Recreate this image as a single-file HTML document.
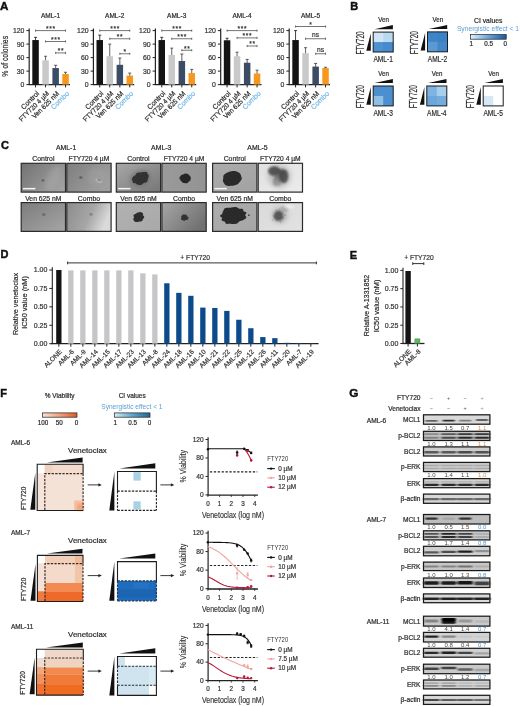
<!DOCTYPE html>
<html><head><meta charset="utf-8"><title>Figure</title>
<style>html,body{margin:0;padding:0;background:#fff;} svg{display:block;font-family:'Liberation Sans', Arial, sans-serif;}</style>
</head><body>
<svg width="520" height="706" viewBox="0 0 520 706">
<defs>
<linearGradient id="gB" x1="0" x2="1" y1="0" y2="0"><stop offset="0" stop-color="#e2f0fa"/><stop offset="0.5" stop-color="#6aa6da"/><stop offset="1" stop-color="#1459a3"/></linearGradient>
<linearGradient id="gFo" x1="0" x2="1" y1="0" y2="0"><stop offset="0" stop-color="#f8e2d6"/><stop offset="0.5" stop-color="#f2a07a"/><stop offset="1" stop-color="#e5581e"/></linearGradient>
<linearGradient id="gFb" x1="0" x2="1" y1="0" y2="0"><stop offset="0" stop-color="#d6eef6"/><stop offset="0.5" stop-color="#5ea7cc"/><stop offset="1" stop-color="#1a6a9c"/></linearGradient>
<linearGradient id="c000" x1="0" x2="1" y1="0.2" y2="0.8"><stop offset="0" stop-color="#767676"/><stop offset="1" stop-color="#a2a2a2"/></linearGradient>
<linearGradient id="c001" x1="0" x2="1" y1="0" y2="0.5"><stop offset="0" stop-color="#7e7e7e"/><stop offset="1" stop-color="#9e9e9e"/></linearGradient>
<linearGradient id="c010" x1="0" x2="1" y1="0" y2="1"><stop offset="0" stop-color="#7c7c7c"/><stop offset="1" stop-color="#a6a6a6"/></linearGradient>
<linearGradient id="c011" x1="0" x2="1" y1="0" y2="0.3"><stop offset="0" stop-color="#8c8c8c"/><stop offset="0.6" stop-color="#a6a6a6"/><stop offset="1" stop-color="#dadada"/></linearGradient>
<linearGradient id="c100" x1="0" x2="1" y1="0" y2="1"><stop offset="0" stop-color="#a8a8a8"/><stop offset="1" stop-color="#767676"/></linearGradient>
<linearGradient id="c101" x1="0" x2="1" y1="0" y2="0"><stop offset="0" stop-color="#9a9a9a"/><stop offset="1" stop-color="#939393"/></linearGradient>
<linearGradient id="c110" x1="0" x2="1" y1="0" y2="1"><stop offset="0" stop-color="#b2b2b2"/><stop offset="1" stop-color="#a8a8a8"/></linearGradient>
<linearGradient id="c111" x1="0" x2="1" y1="0" y2="0.6"><stop offset="0" stop-color="#a6a6a6"/><stop offset="1" stop-color="#727272"/></linearGradient>
<linearGradient id="c200" x1="0" x2="1" y1="0" y2="1"><stop offset="0" stop-color="#acacac"/><stop offset="1" stop-color="#a2a2a2"/></linearGradient>
<linearGradient id="c201" x1="0" x2="1" y1="0" y2="1"><stop offset="0" stop-color="#e0e0e0"/><stop offset="1" stop-color="#ececec"/></linearGradient>
<linearGradient id="c210" x1="0" x2="1" y1="0" y2="1"><stop offset="0" stop-color="#adadad"/><stop offset="1" stop-color="#a6a6a6"/></linearGradient>
<linearGradient id="c211" x1="0" x2="1" y1="0" y2="1"><stop offset="0" stop-color="#dadada"/><stop offset="1" stop-color="#e2e2e2"/></linearGradient>
<filter id="rough" x="-40%" y="-40%" width="180%" height="180%"><feTurbulence type="fractalNoise" baseFrequency="0.22" numOctaves="2" seed="4" result="n"/><feDisplacementMap in="SourceGraphic" in2="n" scale="2.4" xChannelSelector="R" yChannelSelector="G" result="d"/><feGaussianBlur in="d" stdDeviation="0.6"/></filter>
<filter id="rough2" x="-40%" y="-40%" width="180%" height="180%"><feTurbulence type="fractalNoise" baseFrequency="0.3" numOctaves="2" seed="9" result="n"/><feDisplacementMap in="SourceGraphic" in2="n" scale="3.2" xChannelSelector="R" yChannelSelector="G" result="d"/><feGaussianBlur in="d" stdDeviation="0.6"/></filter>
<filter id="bl07" x="-80%" y="-80%" width="260%" height="260%"><feGaussianBlur stdDeviation="0.7"/></filter>
<filter id="bl2" x="-80%" y="-80%" width="260%" height="260%"><feGaussianBlur stdDeviation="2.2"/></filter>
<filter id="bl08" x="-50%" y="-50%" width="200%" height="200%"><feGaussianBlur stdDeviation="0.7"/></filter>
<filter id="bl12" x="-60%" y="-60%" width="220%" height="220%"><feGaussianBlur stdDeviation="1.2"/></filter>
<filter id="bl05" x="-50%" y="-50%" width="200%" height="200%"><feGaussianBlur stdDeviation="0.6"/></filter>
<filter id="bl1" x="-50%" y="-50%" width="200%" height="200%"><feGaussianBlur stdDeviation="1"/></filter>
<filter id="bl15" x="-50%" y="-50%" width="200%" height="200%"><feGaussianBlur stdDeviation="1.6"/></filter>
<filter id="bb" x="-10%" y="-50%" width="120%" height="200%"><feGaussianBlur stdDeviation="1.0 0.5"/></filter>
</defs>
<rect width="520" height="706" fill="#fff"/>
<text x="0.00" y="10.00" font-size="11.6" text-anchor="start" fill="#111" font-weight="bold" stroke="#111" stroke-width="0.45">A</text>
<text transform="translate(8.00,56.30) rotate(-90)" font-size="9.0" text-anchor="middle" fill="#2a2a2a" textLength="40.68" lengthAdjust="spacingAndGlyphs"  stroke="#2a2a2a" stroke-width="0.2">% of colonies</text>
<text x="50.50" y="18.20" font-size="6.5" text-anchor="middle" fill="#2a2a2a"  stroke="#2a2a2a" stroke-width="0.2">AML-1</text>
<line x1="29.20" y1="28.40" x2="29.20" y2="85.00" stroke="#222" stroke-width="1.2" />
<line x1="26.40" y1="84.60" x2="29.00" y2="84.60" stroke="#222" stroke-width="1.0" />
<text x="24.40" y="87.00" font-size="6.9" text-anchor="end" fill="#333"  stroke="#333" stroke-width="0.2">0</text>
<line x1="26.40" y1="71.10" x2="29.00" y2="71.10" stroke="#222" stroke-width="1.0" />
<text x="24.40" y="73.50" font-size="6.9" text-anchor="end" fill="#333"  stroke="#333" stroke-width="0.2">30</text>
<line x1="26.40" y1="57.60" x2="29.00" y2="57.60" stroke="#222" stroke-width="1.0" />
<text x="24.40" y="60.00" font-size="6.9" text-anchor="end" fill="#333"  stroke="#333" stroke-width="0.2">60</text>
<line x1="26.40" y1="44.10" x2="29.00" y2="44.10" stroke="#222" stroke-width="1.0" />
<text x="24.40" y="46.50" font-size="6.9" text-anchor="end" fill="#333"  stroke="#333" stroke-width="0.2">90</text>
<line x1="26.40" y1="30.60" x2="29.00" y2="30.60" stroke="#222" stroke-width="1.0" />
<text x="24.40" y="33.00" font-size="6.9" text-anchor="end" fill="#333"  stroke="#333" stroke-width="0.2">120</text>
<line x1="28.60" y1="84.60" x2="70.00" y2="84.60" stroke="#222" stroke-width="1.2" />
<line x1="35.55" y1="37.35" x2="35.55" y2="40.55" stroke="#141414" stroke-width="0.8" />
<line x1="34.05" y1="37.35" x2="37.05" y2="37.35" stroke="#141414" stroke-width="0.8" />
<rect x="32.30" y="40.05" width="6.50" height="44.55" fill="#141414" />
<line x1="35.55" y1="84.60" x2="35.55" y2="87.40" stroke="#222" stroke-width="1.0" />
<text transform="translate(39.65,94.00) rotate(-45)" font-size="7" text-anchor="end" fill="#2a2a2a" textLength="22.56" lengthAdjust="spacingAndGlyphs"  stroke="#2a2a2a" stroke-width="0.2">Control</text>
<line x1="45.55" y1="56.25" x2="45.55" y2="60.80" stroke="#3a3a3a" stroke-width="0.8" />
<line x1="44.05" y1="56.25" x2="47.05" y2="56.25" stroke="#3a3a3a" stroke-width="0.8" />
<rect x="42.30" y="60.30" width="6.50" height="24.30" fill="#c9c9cb" />
<line x1="45.55" y1="84.60" x2="45.55" y2="87.40" stroke="#222" stroke-width="1.0" />
<text transform="translate(49.65,94.00) rotate(-45)" font-size="7" text-anchor="end" fill="#2a2a2a" textLength="39.57" lengthAdjust="spacingAndGlyphs"  stroke="#2a2a2a" stroke-width="0.2">FTY720 4 µM</text>
<line x1="55.65" y1="65.25" x2="55.65" y2="68.58" stroke="#333" stroke-width="0.8" />
<line x1="54.15" y1="65.25" x2="57.15" y2="65.25" stroke="#333" stroke-width="0.8" />
<rect x="52.40" y="68.08" width="6.50" height="16.52" fill="#3c4c64" />
<line x1="55.65" y1="84.60" x2="55.65" y2="87.40" stroke="#222" stroke-width="1.0" />
<text transform="translate(59.75,94.00) rotate(-45)" font-size="7" text-anchor="end" fill="#2a2a2a" textLength="35.49" lengthAdjust="spacingAndGlyphs"  stroke="#2a2a2a" stroke-width="0.2">Ven 625 nM</text>
<line x1="65.55" y1="72.27" x2="65.55" y2="74.52" stroke="#3a3a3a" stroke-width="0.8" />
<line x1="64.05" y1="72.27" x2="67.05" y2="72.27" stroke="#3a3a3a" stroke-width="0.8" />
<rect x="62.30" y="74.02" width="6.50" height="10.58" fill="#f7981e" />
<line x1="65.55" y1="84.60" x2="65.55" y2="87.40" stroke="#222" stroke-width="1.0" />
<text transform="translate(69.65,94.00) rotate(-45)" font-size="7" text-anchor="end" fill="#72b8e6" textLength="22.56" lengthAdjust="spacingAndGlyphs"  stroke="#72b8e6" stroke-width="0.2">Combo</text>
<line x1="35.55" y1="30.60" x2="65.55" y2="30.60" stroke="#3a3a3a" stroke-width="0.7" />
<line x1="35.55" y1="29.50" x2="35.55" y2="31.70" stroke="#3a3a3a" stroke-width="0.7" />
<line x1="65.55" y1="29.50" x2="65.55" y2="31.70" stroke="#3a3a3a" stroke-width="0.7" />
<text x="50.90" y="30.90" font-size="6.6" text-anchor="middle" fill="#333" stroke="#333" stroke-width="0.2" letter-spacing="0.7">***</text>
<line x1="45.55" y1="41.50" x2="65.55" y2="41.50" stroke="#3a3a3a" stroke-width="0.7" />
<line x1="45.55" y1="40.40" x2="45.55" y2="42.60" stroke="#3a3a3a" stroke-width="0.7" />
<line x1="65.55" y1="40.40" x2="65.55" y2="42.60" stroke="#3a3a3a" stroke-width="0.7" />
<text x="55.90" y="41.80" font-size="6.6" text-anchor="middle" fill="#333" stroke="#333" stroke-width="0.2" letter-spacing="0.7">***</text>
<line x1="55.65" y1="52.90" x2="65.55" y2="52.90" stroke="#3a3a3a" stroke-width="0.7" />
<line x1="55.65" y1="51.80" x2="55.65" y2="54.00" stroke="#3a3a3a" stroke-width="0.7" />
<line x1="65.55" y1="51.80" x2="65.55" y2="54.00" stroke="#3a3a3a" stroke-width="0.7" />
<text x="60.95" y="53.20" font-size="6.6" text-anchor="middle" fill="#333" stroke="#333" stroke-width="0.2" letter-spacing="0.7">**</text>
<text x="114.70" y="18.20" font-size="6.5" text-anchor="middle" fill="#2a2a2a"  stroke="#2a2a2a" stroke-width="0.2">AML-2</text>
<line x1="93.40" y1="28.40" x2="93.40" y2="85.00" stroke="#222" stroke-width="1.2" />
<line x1="90.60" y1="84.60" x2="93.20" y2="84.60" stroke="#222" stroke-width="1.0" />
<text x="88.60" y="87.00" font-size="6.9" text-anchor="end" fill="#333"  stroke="#333" stroke-width="0.2">0</text>
<line x1="90.60" y1="71.10" x2="93.20" y2="71.10" stroke="#222" stroke-width="1.0" />
<text x="88.60" y="73.50" font-size="6.9" text-anchor="end" fill="#333"  stroke="#333" stroke-width="0.2">30</text>
<line x1="90.60" y1="57.60" x2="93.20" y2="57.60" stroke="#222" stroke-width="1.0" />
<text x="88.60" y="60.00" font-size="6.9" text-anchor="end" fill="#333"  stroke="#333" stroke-width="0.2">60</text>
<line x1="90.60" y1="44.10" x2="93.20" y2="44.10" stroke="#222" stroke-width="1.0" />
<text x="88.60" y="46.50" font-size="6.9" text-anchor="end" fill="#333"  stroke="#333" stroke-width="0.2">90</text>
<line x1="90.60" y1="30.60" x2="93.20" y2="30.60" stroke="#222" stroke-width="1.0" />
<text x="88.60" y="33.00" font-size="6.9" text-anchor="end" fill="#333"  stroke="#333" stroke-width="0.2">120</text>
<line x1="92.80" y1="84.60" x2="134.20" y2="84.60" stroke="#222" stroke-width="1.2" />
<line x1="99.75" y1="35.10" x2="99.75" y2="40.55" stroke="#141414" stroke-width="0.8" />
<line x1="98.25" y1="35.10" x2="101.25" y2="35.10" stroke="#141414" stroke-width="0.8" />
<rect x="96.50" y="40.05" width="6.50" height="44.55" fill="#141414" />
<line x1="99.75" y1="84.60" x2="99.75" y2="87.40" stroke="#222" stroke-width="1.0" />
<text transform="translate(103.85,94.00) rotate(-45)" font-size="7" text-anchor="end" fill="#2a2a2a" textLength="22.56" lengthAdjust="spacingAndGlyphs"  stroke="#2a2a2a" stroke-width="0.2">Control</text>
<line x1="109.75" y1="44.10" x2="109.75" y2="56.75" stroke="#3a3a3a" stroke-width="0.8" />
<line x1="108.25" y1="44.10" x2="111.25" y2="44.10" stroke="#3a3a3a" stroke-width="0.8" />
<rect x="106.50" y="56.25" width="6.50" height="28.35" fill="#c9c9cb" />
<line x1="109.75" y1="84.60" x2="109.75" y2="87.40" stroke="#222" stroke-width="1.0" />
<text transform="translate(113.85,94.00) rotate(-45)" font-size="7" text-anchor="end" fill="#2a2a2a" textLength="39.57" lengthAdjust="spacingAndGlyphs"  stroke="#2a2a2a" stroke-width="0.2">FTY720 4 µM</text>
<line x1="119.85" y1="58.05" x2="119.85" y2="65.30" stroke="#333" stroke-width="0.8" />
<line x1="118.35" y1="58.05" x2="121.35" y2="58.05" stroke="#333" stroke-width="0.8" />
<rect x="116.60" y="64.80" width="6.50" height="19.80" fill="#3c4c64" />
<line x1="119.85" y1="84.60" x2="119.85" y2="87.40" stroke="#222" stroke-width="1.0" />
<text transform="translate(123.95,94.00) rotate(-45)" font-size="7" text-anchor="end" fill="#2a2a2a" textLength="35.49" lengthAdjust="spacingAndGlyphs"  stroke="#2a2a2a" stroke-width="0.2">Ven 625 nM</text>
<line x1="129.75" y1="73.08" x2="129.75" y2="76.10" stroke="#3a3a3a" stroke-width="0.8" />
<line x1="128.25" y1="73.08" x2="131.25" y2="73.08" stroke="#3a3a3a" stroke-width="0.8" />
<rect x="126.50" y="75.60" width="6.50" height="9.00" fill="#f7981e" />
<line x1="129.75" y1="84.60" x2="129.75" y2="87.40" stroke="#222" stroke-width="1.0" />
<text transform="translate(133.85,94.00) rotate(-45)" font-size="7" text-anchor="end" fill="#72b8e6" textLength="22.56" lengthAdjust="spacingAndGlyphs"  stroke="#72b8e6" stroke-width="0.2">Combo</text>
<line x1="99.75" y1="30.60" x2="129.75" y2="30.60" stroke="#3a3a3a" stroke-width="0.7" />
<line x1="99.75" y1="29.50" x2="99.75" y2="31.70" stroke="#3a3a3a" stroke-width="0.7" />
<line x1="129.75" y1="29.50" x2="129.75" y2="31.70" stroke="#3a3a3a" stroke-width="0.7" />
<text x="115.10" y="30.90" font-size="6.6" text-anchor="middle" fill="#333" stroke="#333" stroke-width="0.2" letter-spacing="0.7">***</text>
<line x1="109.75" y1="38.75" x2="129.75" y2="38.75" stroke="#3a3a3a" stroke-width="0.7" />
<line x1="109.75" y1="37.65" x2="109.75" y2="39.85" stroke="#3a3a3a" stroke-width="0.7" />
<line x1="129.75" y1="37.65" x2="129.75" y2="39.85" stroke="#3a3a3a" stroke-width="0.7" />
<text x="120.10" y="39.05" font-size="6.6" text-anchor="middle" fill="#333" stroke="#333" stroke-width="0.2" letter-spacing="0.7">**</text>
<line x1="119.85" y1="53.75" x2="129.75" y2="53.75" stroke="#3a3a3a" stroke-width="0.7" />
<line x1="119.85" y1="52.65" x2="119.85" y2="54.85" stroke="#3a3a3a" stroke-width="0.7" />
<line x1="129.75" y1="52.65" x2="129.75" y2="54.85" stroke="#3a3a3a" stroke-width="0.7" />
<text x="125.15" y="54.05" font-size="6.6" text-anchor="middle" fill="#333" stroke="#333" stroke-width="0.2" letter-spacing="0.7">*</text>
<text x="176.70" y="18.20" font-size="6.5" text-anchor="middle" fill="#2a2a2a"  stroke="#2a2a2a" stroke-width="0.2">AML-3</text>
<line x1="155.40" y1="28.40" x2="155.40" y2="85.00" stroke="#222" stroke-width="1.2" />
<line x1="152.60" y1="84.60" x2="155.20" y2="84.60" stroke="#222" stroke-width="1.0" />
<text x="150.60" y="87.00" font-size="6.9" text-anchor="end" fill="#333"  stroke="#333" stroke-width="0.2">0</text>
<line x1="152.60" y1="71.10" x2="155.20" y2="71.10" stroke="#222" stroke-width="1.0" />
<text x="150.60" y="73.50" font-size="6.9" text-anchor="end" fill="#333"  stroke="#333" stroke-width="0.2">30</text>
<line x1="152.60" y1="57.60" x2="155.20" y2="57.60" stroke="#222" stroke-width="1.0" />
<text x="150.60" y="60.00" font-size="6.9" text-anchor="end" fill="#333"  stroke="#333" stroke-width="0.2">60</text>
<line x1="152.60" y1="44.10" x2="155.20" y2="44.10" stroke="#222" stroke-width="1.0" />
<text x="150.60" y="46.50" font-size="6.9" text-anchor="end" fill="#333"  stroke="#333" stroke-width="0.2">90</text>
<line x1="152.60" y1="30.60" x2="155.20" y2="30.60" stroke="#222" stroke-width="1.0" />
<text x="150.60" y="33.00" font-size="6.9" text-anchor="end" fill="#333"  stroke="#333" stroke-width="0.2">120</text>
<line x1="154.80" y1="84.60" x2="196.20" y2="84.60" stroke="#222" stroke-width="1.2" />
<line x1="161.75" y1="37.35" x2="161.75" y2="40.55" stroke="#141414" stroke-width="0.8" />
<line x1="160.25" y1="37.35" x2="163.25" y2="37.35" stroke="#141414" stroke-width="0.8" />
<rect x="158.50" y="40.05" width="6.50" height="44.55" fill="#141414" />
<line x1="161.75" y1="84.60" x2="161.75" y2="87.40" stroke="#222" stroke-width="1.0" />
<text transform="translate(165.85,94.00) rotate(-45)" font-size="7" text-anchor="end" fill="#2a2a2a" textLength="22.56" lengthAdjust="spacingAndGlyphs"  stroke="#2a2a2a" stroke-width="0.2">Control</text>
<line x1="171.75" y1="48.15" x2="171.75" y2="55.40" stroke="#3a3a3a" stroke-width="0.8" />
<line x1="170.25" y1="48.15" x2="173.25" y2="48.15" stroke="#3a3a3a" stroke-width="0.8" />
<rect x="168.50" y="54.90" width="6.50" height="29.70" fill="#c9c9cb" />
<line x1="171.75" y1="84.60" x2="171.75" y2="87.40" stroke="#222" stroke-width="1.0" />
<text transform="translate(175.85,94.00) rotate(-45)" font-size="7" text-anchor="end" fill="#2a2a2a" textLength="39.57" lengthAdjust="spacingAndGlyphs"  stroke="#2a2a2a" stroke-width="0.2">FTY720 4 µM</text>
<line x1="181.85" y1="54.00" x2="181.85" y2="61.52" stroke="#333" stroke-width="0.8" />
<line x1="180.35" y1="54.00" x2="183.35" y2="54.00" stroke="#333" stroke-width="0.8" />
<rect x="178.60" y="61.02" width="6.50" height="23.58" fill="#3c4c64" />
<line x1="181.85" y1="84.60" x2="181.85" y2="87.40" stroke="#222" stroke-width="1.0" />
<text transform="translate(185.95,94.00) rotate(-45)" font-size="7" text-anchor="end" fill="#2a2a2a" textLength="35.49" lengthAdjust="spacingAndGlyphs"  stroke="#2a2a2a" stroke-width="0.2">Ven 625 nM</text>
<line x1="191.75" y1="69.39" x2="191.75" y2="73.58" stroke="#3a3a3a" stroke-width="0.8" />
<line x1="190.25" y1="69.39" x2="193.25" y2="69.39" stroke="#3a3a3a" stroke-width="0.8" />
<rect x="188.50" y="73.08" width="6.50" height="11.52" fill="#f7981e" />
<line x1="191.75" y1="84.60" x2="191.75" y2="87.40" stroke="#222" stroke-width="1.0" />
<text transform="translate(195.85,94.00) rotate(-45)" font-size="7" text-anchor="end" fill="#72b8e6" textLength="22.56" lengthAdjust="spacingAndGlyphs"  stroke="#72b8e6" stroke-width="0.2">Combo</text>
<line x1="161.75" y1="30.60" x2="191.75" y2="30.60" stroke="#3a3a3a" stroke-width="0.7" />
<line x1="161.75" y1="29.50" x2="161.75" y2="31.70" stroke="#3a3a3a" stroke-width="0.7" />
<line x1="191.75" y1="29.50" x2="191.75" y2="31.70" stroke="#3a3a3a" stroke-width="0.7" />
<text x="177.10" y="30.90" font-size="6.6" text-anchor="middle" fill="#333" stroke="#333" stroke-width="0.2" letter-spacing="0.7">***</text>
<line x1="171.75" y1="38.75" x2="191.75" y2="38.75" stroke="#3a3a3a" stroke-width="0.7" />
<line x1="171.75" y1="37.65" x2="171.75" y2="39.85" stroke="#3a3a3a" stroke-width="0.7" />
<line x1="191.75" y1="37.65" x2="191.75" y2="39.85" stroke="#3a3a3a" stroke-width="0.7" />
<text x="182.10" y="39.05" font-size="6.6" text-anchor="middle" fill="#333" stroke="#333" stroke-width="0.2" letter-spacing="0.7">***</text>
<line x1="181.85" y1="50.25" x2="191.75" y2="50.25" stroke="#3a3a3a" stroke-width="0.7" />
<line x1="181.85" y1="49.15" x2="181.85" y2="51.35" stroke="#3a3a3a" stroke-width="0.7" />
<line x1="191.75" y1="49.15" x2="191.75" y2="51.35" stroke="#3a3a3a" stroke-width="0.7" />
<text x="187.15" y="50.55" font-size="6.6" text-anchor="middle" fill="#333" stroke="#333" stroke-width="0.2" letter-spacing="0.7">**</text>
<text x="242.00" y="18.20" font-size="6.5" text-anchor="middle" fill="#2a2a2a"  stroke="#2a2a2a" stroke-width="0.2">AML-4</text>
<line x1="220.70" y1="28.40" x2="220.70" y2="85.00" stroke="#222" stroke-width="1.2" />
<line x1="217.90" y1="84.60" x2="220.50" y2="84.60" stroke="#222" stroke-width="1.0" />
<text x="215.90" y="87.00" font-size="6.9" text-anchor="end" fill="#333"  stroke="#333" stroke-width="0.2">0</text>
<line x1="217.90" y1="71.10" x2="220.50" y2="71.10" stroke="#222" stroke-width="1.0" />
<text x="215.90" y="73.50" font-size="6.9" text-anchor="end" fill="#333"  stroke="#333" stroke-width="0.2">30</text>
<line x1="217.90" y1="57.60" x2="220.50" y2="57.60" stroke="#222" stroke-width="1.0" />
<text x="215.90" y="60.00" font-size="6.9" text-anchor="end" fill="#333"  stroke="#333" stroke-width="0.2">60</text>
<line x1="217.90" y1="44.10" x2="220.50" y2="44.10" stroke="#222" stroke-width="1.0" />
<text x="215.90" y="46.50" font-size="6.9" text-anchor="end" fill="#333"  stroke="#333" stroke-width="0.2">90</text>
<line x1="217.90" y1="30.60" x2="220.50" y2="30.60" stroke="#222" stroke-width="1.0" />
<text x="215.90" y="33.00" font-size="6.9" text-anchor="end" fill="#333"  stroke="#333" stroke-width="0.2">120</text>
<line x1="220.10" y1="84.60" x2="261.50" y2="84.60" stroke="#222" stroke-width="1.2" />
<line x1="227.05" y1="38.25" x2="227.05" y2="40.77" stroke="#141414" stroke-width="0.8" />
<line x1="225.55" y1="38.25" x2="228.55" y2="38.25" stroke="#141414" stroke-width="0.8" />
<rect x="223.80" y="40.27" width="6.50" height="44.33" fill="#141414" />
<line x1="227.05" y1="84.60" x2="227.05" y2="87.40" stroke="#222" stroke-width="1.0" />
<text transform="translate(231.15,94.00) rotate(-45)" font-size="7" text-anchor="end" fill="#2a2a2a" textLength="22.56" lengthAdjust="spacingAndGlyphs"  stroke="#2a2a2a" stroke-width="0.2">Control</text>
<line x1="237.05" y1="52.20" x2="237.05" y2="56.75" stroke="#3a3a3a" stroke-width="0.8" />
<line x1="235.55" y1="52.20" x2="238.55" y2="52.20" stroke="#3a3a3a" stroke-width="0.8" />
<rect x="233.80" y="56.25" width="6.50" height="28.35" fill="#c9c9cb" />
<line x1="237.05" y1="84.60" x2="237.05" y2="87.40" stroke="#222" stroke-width="1.0" />
<text transform="translate(241.15,94.00) rotate(-45)" font-size="7" text-anchor="end" fill="#2a2a2a" textLength="39.57" lengthAdjust="spacingAndGlyphs"  stroke="#2a2a2a" stroke-width="0.2">FTY720 4 µM</text>
<line x1="247.15" y1="59.40" x2="247.15" y2="63.23" stroke="#333" stroke-width="0.8" />
<line x1="245.65" y1="59.40" x2="248.65" y2="59.40" stroke="#333" stroke-width="0.8" />
<rect x="243.90" y="62.73" width="6.50" height="21.87" fill="#3c4c64" />
<line x1="247.15" y1="84.60" x2="247.15" y2="87.40" stroke="#222" stroke-width="1.0" />
<text transform="translate(251.25,94.00) rotate(-45)" font-size="7" text-anchor="end" fill="#2a2a2a" textLength="35.49" lengthAdjust="spacingAndGlyphs"  stroke="#2a2a2a" stroke-width="0.2">Ven 625 nM</text>
<line x1="257.05" y1="70.20" x2="257.05" y2="73.98" stroke="#3a3a3a" stroke-width="0.8" />
<line x1="255.55" y1="70.20" x2="258.55" y2="70.20" stroke="#3a3a3a" stroke-width="0.8" />
<rect x="253.80" y="73.48" width="6.50" height="11.11" fill="#f7981e" />
<line x1="257.05" y1="84.60" x2="257.05" y2="87.40" stroke="#222" stroke-width="1.0" />
<text transform="translate(261.15,94.00) rotate(-45)" font-size="7" text-anchor="end" fill="#72b8e6" textLength="22.56" lengthAdjust="spacingAndGlyphs"  stroke="#72b8e6" stroke-width="0.2">Combo</text>
<line x1="227.05" y1="30.60" x2="257.05" y2="30.60" stroke="#3a3a3a" stroke-width="0.7" />
<line x1="227.05" y1="29.50" x2="227.05" y2="31.70" stroke="#3a3a3a" stroke-width="0.7" />
<line x1="257.05" y1="29.50" x2="257.05" y2="31.70" stroke="#3a3a3a" stroke-width="0.7" />
<text x="242.40" y="30.90" font-size="6.6" text-anchor="middle" fill="#333" stroke="#333" stroke-width="0.2" letter-spacing="0.7">***</text>
<line x1="237.05" y1="37.90" x2="257.05" y2="37.90" stroke="#3a3a3a" stroke-width="0.7" />
<line x1="237.05" y1="36.80" x2="237.05" y2="39.00" stroke="#3a3a3a" stroke-width="0.7" />
<line x1="257.05" y1="36.80" x2="257.05" y2="39.00" stroke="#3a3a3a" stroke-width="0.7" />
<text x="247.40" y="38.20" font-size="6.6" text-anchor="middle" fill="#333" stroke="#333" stroke-width="0.2" letter-spacing="0.7">***</text>
<line x1="247.15" y1="46.00" x2="257.05" y2="46.00" stroke="#3a3a3a" stroke-width="0.7" />
<line x1="247.15" y1="44.90" x2="247.15" y2="47.10" stroke="#3a3a3a" stroke-width="0.7" />
<line x1="257.05" y1="44.90" x2="257.05" y2="47.10" stroke="#3a3a3a" stroke-width="0.7" />
<text x="252.45" y="46.30" font-size="6.6" text-anchor="middle" fill="#333" stroke="#333" stroke-width="0.2" letter-spacing="0.7">**</text>
<text x="310.50" y="18.20" font-size="6.5" text-anchor="middle" fill="#2a2a2a"  stroke="#2a2a2a" stroke-width="0.2">AML-5</text>
<line x1="289.20" y1="28.40" x2="289.20" y2="85.00" stroke="#222" stroke-width="1.2" />
<line x1="286.40" y1="84.60" x2="289.00" y2="84.60" stroke="#222" stroke-width="1.0" />
<text x="284.40" y="87.00" font-size="6.9" text-anchor="end" fill="#333"  stroke="#333" stroke-width="0.2">0</text>
<line x1="286.40" y1="71.10" x2="289.00" y2="71.10" stroke="#222" stroke-width="1.0" />
<text x="284.40" y="73.50" font-size="6.9" text-anchor="end" fill="#333"  stroke="#333" stroke-width="0.2">30</text>
<line x1="286.40" y1="57.60" x2="289.00" y2="57.60" stroke="#222" stroke-width="1.0" />
<text x="284.40" y="60.00" font-size="6.9" text-anchor="end" fill="#333"  stroke="#333" stroke-width="0.2">60</text>
<line x1="286.40" y1="44.10" x2="289.00" y2="44.10" stroke="#222" stroke-width="1.0" />
<text x="284.40" y="46.50" font-size="6.9" text-anchor="end" fill="#333"  stroke="#333" stroke-width="0.2">90</text>
<line x1="286.40" y1="30.60" x2="289.00" y2="30.60" stroke="#222" stroke-width="1.0" />
<text x="284.40" y="33.00" font-size="6.9" text-anchor="end" fill="#333"  stroke="#333" stroke-width="0.2">120</text>
<line x1="288.60" y1="84.60" x2="330.00" y2="84.60" stroke="#222" stroke-width="1.2" />
<line x1="295.55" y1="30.60" x2="295.55" y2="40.55" stroke="#141414" stroke-width="0.8" />
<line x1="294.05" y1="30.60" x2="297.05" y2="30.60" stroke="#141414" stroke-width="0.8" />
<rect x="292.30" y="40.05" width="6.50" height="44.55" fill="#141414" />
<line x1="295.55" y1="84.60" x2="295.55" y2="87.40" stroke="#222" stroke-width="1.0" />
<text transform="translate(299.65,94.00) rotate(-45)" font-size="7" text-anchor="end" fill="#2a2a2a" textLength="22.56" lengthAdjust="spacingAndGlyphs"  stroke="#2a2a2a" stroke-width="0.2">Control</text>
<line x1="305.55" y1="47.70" x2="305.55" y2="53.60" stroke="#3a3a3a" stroke-width="0.8" />
<line x1="304.05" y1="47.70" x2="307.05" y2="47.70" stroke="#3a3a3a" stroke-width="0.8" />
<rect x="302.30" y="53.10" width="6.50" height="31.50" fill="#c9c9cb" />
<line x1="305.55" y1="84.60" x2="305.55" y2="87.40" stroke="#222" stroke-width="1.0" />
<text transform="translate(309.65,94.00) rotate(-45)" font-size="7" text-anchor="end" fill="#2a2a2a" textLength="39.57" lengthAdjust="spacingAndGlyphs"  stroke="#2a2a2a" stroke-width="0.2">FTY720 4 µM</text>
<line x1="315.65" y1="63.45" x2="315.65" y2="67.10" stroke="#333" stroke-width="0.8" />
<line x1="314.15" y1="63.45" x2="317.15" y2="63.45" stroke="#333" stroke-width="0.8" />
<rect x="312.40" y="66.60" width="6.50" height="18.00" fill="#3c4c64" />
<line x1="315.65" y1="84.60" x2="315.65" y2="87.40" stroke="#222" stroke-width="1.0" />
<text transform="translate(319.75,94.00) rotate(-45)" font-size="7" text-anchor="end" fill="#2a2a2a" textLength="35.49" lengthAdjust="spacingAndGlyphs"  stroke="#2a2a2a" stroke-width="0.2">Ven 625 nM</text>
<line x1="325.55" y1="67.27" x2="325.55" y2="68.58" stroke="#3a3a3a" stroke-width="0.8" />
<line x1="324.05" y1="67.27" x2="327.05" y2="67.27" stroke="#3a3a3a" stroke-width="0.8" />
<rect x="322.30" y="68.08" width="6.50" height="16.52" fill="#f7981e" />
<line x1="325.55" y1="84.60" x2="325.55" y2="87.40" stroke="#222" stroke-width="1.0" />
<text transform="translate(329.65,94.00) rotate(-45)" font-size="7" text-anchor="end" fill="#72b8e6" textLength="22.56" lengthAdjust="spacingAndGlyphs"  stroke="#72b8e6" stroke-width="0.2">Combo</text>
<line x1="295.55" y1="26.50" x2="325.55" y2="26.50" stroke="#3a3a3a" stroke-width="0.7" />
<line x1="295.55" y1="25.40" x2="295.55" y2="27.60" stroke="#3a3a3a" stroke-width="0.7" />
<line x1="325.55" y1="25.40" x2="325.55" y2="27.60" stroke="#3a3a3a" stroke-width="0.7" />
<text x="310.90" y="26.80" font-size="6.6" text-anchor="middle" fill="#333" stroke="#333" stroke-width="0.2" letter-spacing="0.7">*</text>
<line x1="305.55" y1="38.75" x2="325.55" y2="38.75" stroke="#3a3a3a" stroke-width="0.7" />
<line x1="305.55" y1="37.65" x2="305.55" y2="39.85" stroke="#3a3a3a" stroke-width="0.7" />
<line x1="325.55" y1="37.65" x2="325.55" y2="39.85" stroke="#3a3a3a" stroke-width="0.7" />
<text x="315.55" y="37.45" font-size="6.6" text-anchor="middle" fill="#333"  stroke="#333" stroke-width="0.2">ns</text>
<line x1="315.65" y1="53.75" x2="325.55" y2="53.75" stroke="#3a3a3a" stroke-width="0.7" />
<line x1="315.65" y1="52.65" x2="315.65" y2="54.85" stroke="#3a3a3a" stroke-width="0.7" />
<line x1="325.55" y1="52.65" x2="325.55" y2="54.85" stroke="#3a3a3a" stroke-width="0.7" />
<text x="320.60" y="52.45" font-size="6.6" text-anchor="middle" fill="#333"  stroke="#333" stroke-width="0.2">ns</text>
<text x="350.20" y="9.90" font-size="11" text-anchor="start" fill="#111" font-weight="bold" stroke="#111" stroke-width="0.45">B</text>
<rect x="373.20" y="32.10" width="11.20" height="11.15" fill="#cfe5f5" />
<rect x="383.20" y="32.10" width="10.00" height="11.15" fill="#b9d9f0" />
<rect x="373.20" y="42.05" width="11.20" height="9.95" fill="#4e91d0" />
<rect x="383.20" y="42.05" width="10.00" height="9.95" fill="#468bcd" />
<rect x="373.20" y="32.10" width="20.00" height="19.90" fill="none" stroke="#1a1a1a" stroke-width="1.0"/>
<polygon points="374.50,29.20 392.90,25.10 392.90,29.20" fill="#111" />
<polygon points="370.80,33.20 370.80,50.80 366.30,50.80" fill="#111" />
<text x="383.50" y="22.00" font-size="6.5" text-anchor="middle" fill="#2a2a2a" textLength="10.65" lengthAdjust="spacingAndGlyphs"  stroke="#2a2a2a" stroke-width="0.2">Ven</text>
<text transform="translate(363.60,42.90) rotate(-90)" font-size="10.0" text-anchor="middle" fill="#2a2a2a" textLength="23.12" lengthAdjust="spacingAndGlyphs"  stroke="#2a2a2a" stroke-width="0.2">FTY720</text>
<text x="383.20" y="61.70" font-size="9.2" text-anchor="middle" fill="#2a2a2a" textLength="19.51" lengthAdjust="spacingAndGlyphs"  stroke="#2a2a2a" stroke-width="0.2">AML-1</text>
<rect x="427.50" y="31.90" width="11.20" height="11.15" fill="#3e84c8" />
<rect x="437.50" y="31.90" width="10.00" height="11.15" fill="#3b81c6" />
<rect x="427.50" y="41.85" width="11.20" height="9.95" fill="#5b99d2" />
<rect x="437.50" y="41.85" width="10.00" height="9.95" fill="#4287c9" />
<rect x="427.50" y="31.90" width="20.00" height="19.90" fill="none" stroke="#1a1a1a" stroke-width="1.0"/>
<polygon points="428.80,29.00 447.20,24.90 447.20,29.00" fill="#111" />
<polygon points="425.10,33.00 425.10,50.60 420.60,50.60" fill="#111" />
<text x="437.80" y="21.80" font-size="6.5" text-anchor="middle" fill="#2a2a2a" textLength="10.65" lengthAdjust="spacingAndGlyphs"  stroke="#2a2a2a" stroke-width="0.2">Ven</text>
<text transform="translate(417.90,42.70) rotate(-90)" font-size="10.0" text-anchor="middle" fill="#2a2a2a" textLength="23.12" lengthAdjust="spacingAndGlyphs"  stroke="#2a2a2a" stroke-width="0.2">FTY720</text>
<text x="437.50" y="61.50" font-size="9.2" text-anchor="middle" fill="#2a2a2a" textLength="19.51" lengthAdjust="spacingAndGlyphs"  stroke="#2a2a2a" stroke-width="0.2">AML-2</text>
<rect x="373.20" y="86.00" width="11.20" height="11.15" fill="#4b8fcf" />
<rect x="383.20" y="86.00" width="10.00" height="11.15" fill="#4b8fcf" />
<rect x="373.20" y="95.95" width="11.20" height="9.95" fill="#8fbfe6" />
<rect x="383.20" y="95.95" width="10.00" height="9.95" fill="#4b8fcf" />
<rect x="373.20" y="86.00" width="20.00" height="19.90" fill="none" stroke="#1a1a1a" stroke-width="1.0"/>
<polygon points="374.50,83.10 392.90,79.00 392.90,83.10" fill="#111" />
<polygon points="370.80,87.10 370.80,104.70 366.30,104.70" fill="#111" />
<text x="383.50" y="75.90" font-size="6.5" text-anchor="middle" fill="#2a2a2a" textLength="10.65" lengthAdjust="spacingAndGlyphs"  stroke="#2a2a2a" stroke-width="0.2">Ven</text>
<text transform="translate(363.60,96.80) rotate(-90)" font-size="10.0" text-anchor="middle" fill="#2a2a2a" textLength="23.12" lengthAdjust="spacingAndGlyphs"  stroke="#2a2a2a" stroke-width="0.2">FTY720</text>
<text x="383.20" y="115.60" font-size="9.2" text-anchor="middle" fill="#2a2a2a" textLength="19.51" lengthAdjust="spacingAndGlyphs"  stroke="#2a2a2a" stroke-width="0.2">AML-3</text>
<rect x="426.80" y="86.00" width="11.20" height="11.15" fill="#7fb4e0" />
<rect x="436.80" y="86.00" width="10.00" height="11.15" fill="#a9cfed" />
<rect x="426.80" y="95.95" width="11.20" height="9.95" fill="#6aa7dc" />
<rect x="436.80" y="95.95" width="10.00" height="9.95" fill="#74addd" />
<rect x="426.80" y="86.00" width="20.00" height="19.90" fill="none" stroke="#1a1a1a" stroke-width="1.0"/>
<polygon points="428.10,83.10 446.50,79.00 446.50,83.10" fill="#111" />
<polygon points="424.40,87.10 424.40,104.70 419.90,104.70" fill="#111" />
<text x="437.10" y="75.90" font-size="6.5" text-anchor="middle" fill="#2a2a2a" textLength="10.65" lengthAdjust="spacingAndGlyphs"  stroke="#2a2a2a" stroke-width="0.2">Ven</text>
<text transform="translate(417.20,96.80) rotate(-90)" font-size="10.0" text-anchor="middle" fill="#2a2a2a" textLength="23.12" lengthAdjust="spacingAndGlyphs"  stroke="#2a2a2a" stroke-width="0.2">FTY720</text>
<text x="436.80" y="115.60" font-size="9.2" text-anchor="middle" fill="#2a2a2a" textLength="19.51" lengthAdjust="spacingAndGlyphs"  stroke="#2a2a2a" stroke-width="0.2">AML-4</text>
<rect x="483.20" y="86.00" width="11.20" height="11.15" fill="#ffffff" />
<rect x="493.20" y="86.00" width="10.00" height="11.15" fill="#ffffff" />
<rect x="483.20" y="95.95" width="11.20" height="9.95" fill="#d6e8f6" />
<rect x="493.20" y="95.95" width="10.00" height="9.95" fill="#ffffff" />
<rect x="483.20" y="86.00" width="20.00" height="19.90" fill="none" stroke="#1a1a1a" stroke-width="1.0"/>
<polygon points="484.50,83.10 502.90,79.00 502.90,83.10" fill="#111" />
<polygon points="480.80,87.10 480.80,104.70 476.30,104.70" fill="#111" />
<text x="493.50" y="75.90" font-size="6.5" text-anchor="middle" fill="#2a2a2a" textLength="10.65" lengthAdjust="spacingAndGlyphs"  stroke="#2a2a2a" stroke-width="0.2">Ven</text>
<text transform="translate(473.60,96.80) rotate(-90)" font-size="10.0" text-anchor="middle" fill="#2a2a2a" textLength="23.12" lengthAdjust="spacingAndGlyphs"  stroke="#2a2a2a" stroke-width="0.2">FTY720</text>
<text x="493.20" y="115.60" font-size="9.2" text-anchor="middle" fill="#2a2a2a" textLength="19.51" lengthAdjust="spacingAndGlyphs"  stroke="#2a2a2a" stroke-width="0.2">AML-5</text>
<text x="488.20" y="22.80" font-size="6.8" text-anchor="middle" fill="#2a2a2a"  stroke="#2a2a2a" stroke-width="0.2">CI values</text>
<text x="488.00" y="30.60" font-size="6.9" text-anchor="middle" fill="#5a9fd6" textLength="62.19" lengthAdjust="spacingAndGlyphs" stroke="none">Synergistic effect &lt; 1</text>
<rect x="470.4" y="34.6" width="35.8" height="4.6" fill="url(#gB)" stroke="#222" stroke-width="0.7"/>
<text x="471.20" y="46.20" font-size="6.3" text-anchor="middle" fill="#2a2a2a"  stroke="#2a2a2a" stroke-width="0.2">1</text>
<text x="488.60" y="46.20" font-size="6.3" text-anchor="middle" fill="#2a2a2a"  stroke="#2a2a2a" stroke-width="0.2">0.5</text>
<text x="505.20" y="46.20" font-size="6.3" text-anchor="middle" fill="#2a2a2a"  stroke="#2a2a2a" stroke-width="0.2">0</text>
<text x="1.00" y="149.00" font-size="11" text-anchor="start" fill="#111" font-weight="bold" stroke="#111" stroke-width="0.45">C</text>
<text x="66.10" y="150.00" font-size="6.9" text-anchor="middle" fill="#2a2a2a"  stroke="#2a2a2a" stroke-width="0.2">AML-1</text>
<text x="43.35" y="160.70" font-size="6.9" text-anchor="middle" fill="#2a2a2a"  stroke="#2a2a2a" stroke-width="0.2">Control</text>
<text x="88.95" y="160.70" font-size="6.7" text-anchor="middle" fill="#2a2a2a"  stroke="#2a2a2a" stroke-width="0.2">FTY720 4 µM</text>
<text x="43.35" y="200.90" font-size="6.8" text-anchor="middle" fill="#2a2a2a"  stroke="#2a2a2a" stroke-width="0.2">Ven 625 nM</text>
<text x="88.95" y="200.90" font-size="6.9" text-anchor="middle" fill="#2a2a2a"  stroke="#2a2a2a" stroke-width="0.2">Combo</text>
<g transform="translate(21.20,163.30)">
<rect x="0" y="0" width="44.3" height="28.8" fill="url(#c000)"/>
<ellipse cx="32" cy="15" rx="6" ry="13" fill="#b4b4b4" opacity="0.35" transform="rotate(25 32 15)" filter="url(#bl2)"/><ellipse cx="21.7" cy="17" rx="1.6" ry="1.4" fill="#3a3a3a" opacity="0.45" filter="url(#bl07)"/>
<rect x="1.8" y="24.6" width="12.4" height="1.5" fill="#f4f4f4"/>
<rect x="0" y="0" width="44.3" height="28.8" fill="none" stroke="#2b2b2b" stroke-width="1.2"/>
</g>
<g transform="translate(66.80,163.30)">
<rect x="0" y="0" width="44.3" height="28.8" fill="url(#c001)"/>
<ellipse cx="30" cy="13" rx="9" ry="9" fill="#a8a8a8" opacity="0.35" filter="url(#bl2)"/><ellipse cx="14" cy="14.2" rx="1.8" ry="1.6" fill="#3a3a3a" opacity="0.45" filter="url(#bl07)"/><path d="M30,15 A3,2.2 0 0 0 35.5,18" fill="none" stroke="#dcdcdc" stroke-width="1.0" opacity="0.5" filter="url(#bl07)"/><ellipse cx="32.5" cy="16.5" rx="1.2" ry="0.9" fill="#666" opacity="0.4" filter="url(#bl05)"/>
<rect x="0" y="0" width="44.3" height="28.8" fill="none" stroke="#2b2b2b" stroke-width="1.2"/>
</g>
<g transform="translate(21.20,202.60)">
<rect x="0" y="0" width="44.3" height="28.8" fill="url(#c010)"/>
<ellipse cx="22.6" cy="11.8" rx="1.7" ry="1.5" fill="#3a3a3a" opacity="0.4" filter="url(#bl07)"/>
<rect x="0" y="0" width="44.3" height="28.8" fill="none" stroke="#2b2b2b" stroke-width="1.2"/>
</g>
<g transform="translate(66.80,202.60)">
<rect x="0" y="0" width="44.3" height="28.8" fill="url(#c011)"/>
<ellipse cx="24.2" cy="11.8" rx="1.6" ry="1.4" fill="#3a3a3a" opacity="0.35" filter="url(#bl07)"/>
<rect x="0" y="0" width="44.3" height="28.8" fill="none" stroke="#2b2b2b" stroke-width="1.2"/>
</g>
<text x="161.20" y="150.00" font-size="6.9" text-anchor="middle" fill="#2a2a2a"  stroke="#2a2a2a" stroke-width="0.2">AML-3</text>
<text x="138.45" y="160.70" font-size="6.9" text-anchor="middle" fill="#2a2a2a"  stroke="#2a2a2a" stroke-width="0.2">Control</text>
<text x="184.05" y="160.70" font-size="6.7" text-anchor="middle" fill="#2a2a2a"  stroke="#2a2a2a" stroke-width="0.2">FTY720 4 µM</text>
<text x="138.45" y="200.90" font-size="6.8" text-anchor="middle" fill="#2a2a2a"  stroke="#2a2a2a" stroke-width="0.2">Ven 625 nM</text>
<text x="184.05" y="200.90" font-size="6.9" text-anchor="middle" fill="#2a2a2a"  stroke="#2a2a2a" stroke-width="0.2">Combo</text>
<g transform="translate(116.30,163.30)">
<rect x="0" y="0" width="44.3" height="28.8" fill="url(#c100)"/>
<ellipse cx="24" cy="15" rx="11" ry="8.5" fill="#6a6a6a" opacity="0.5" transform="rotate(-20 24 15)" filter="url(#bl15)"/><path d="M32.21,11.80 L32.39,12.29 L32.39,12.83 L32.28,13.39 L32.14,13.93 L32.02,14.46 L31.91,14.99 L31.76,15.53 L31.59,16.07 L31.43,16.63 L31.30,17.24 L31.10,17.87 L30.73,18.47 L30.11,18.95 L29.30,19.26 L28.45,19.45 L27.69,19.64 L27.06,19.95 L26.49,20.43 L25.88,20.95 L25.18,21.38 L24.41,21.62 L23.65,21.67 L22.92,21.64 L22.21,21.59 L21.52,21.51 L20.90,21.32 L20.39,21.00 L19.97,20.61 L19.58,20.25 L19.08,20.03 L18.43,19.93 L17.70,19.84 L17.06,19.63 L16.62,19.26 L16.40,18.77 L16.27,18.25 L16.11,17.74 L15.91,17.25 L15.71,16.73 L15.62,16.18 L15.67,15.60 L15.85,15.01 L16.12,14.42 L16.48,13.85 L16.98,13.32 L17.60,12.86 L18.27,12.45 L18.86,12.06 L19.30,11.59 L19.62,11.01 L19.98,10.37 L20.49,9.80 L21.19,9.43 L22.00,9.30 L22.79,9.31 L23.52,9.31 L24.20,9.20 L24.88,9.01 L25.58,8.83 L26.29,8.73 L26.99,8.70 L27.71,8.66 L28.49,8.58 L29.30,8.52 L30.06,8.59 L30.64,8.89 L30.98,9.39 L31.15,9.98 L31.30,10.53 L31.55,10.98 L31.89,11.38 Z" fill="#323232" filter="url(#bl08)"/>
<rect x="1.8" y="24.6" width="12.4" height="1.5" fill="#f4f4f4"/>
<rect x="0" y="0" width="44.3" height="28.8" fill="none" stroke="#2b2b2b" stroke-width="1.2"/>
</g>
<g transform="translate(161.90,163.30)">
<rect x="0" y="0" width="44.3" height="28.8" fill="url(#c101)"/>
<path d="M28.81,15.10 L28.76,15.50 L28.74,15.90 L28.72,16.32 L28.65,16.73 L28.47,17.12 L28.19,17.46 L27.82,17.75 L27.44,18.00 L27.09,18.26 L26.79,18.55 L26.50,18.89 L26.19,19.23 L25.82,19.53 L25.37,19.74 L24.89,19.84 L24.38,19.86 L23.89,19.85 L23.40,19.84 L22.92,19.83 L22.43,19.81 L21.95,19.73 L21.49,19.58 L21.07,19.37 L20.69,19.11 L20.34,18.84 L19.99,18.57 L19.65,18.31 L19.32,18.02 L19.04,17.71 L18.81,17.36 L18.62,17.00 L18.44,16.64 L18.23,16.28 L17.98,15.92 L17.74,15.52 L17.56,15.10 L17.50,14.66 L17.60,14.23 L17.81,13.82 L18.09,13.45 L18.36,13.09 L18.62,12.74 L18.86,12.39 L19.14,12.05 L19.49,11.76 L19.91,11.55 L20.38,11.41 L20.84,11.31 L21.27,11.19 L21.66,11.02 L22.05,10.80 L22.46,10.55 L22.91,10.35 L23.40,10.23 L23.90,10.21 L24.39,10.29 L24.87,10.41 L25.33,10.56 L25.78,10.73 L26.22,10.93 L26.61,11.18 L26.95,11.48 L27.25,11.81 L27.52,12.15 L27.79,12.47 L28.08,12.79 L28.38,13.12 L28.63,13.47 L28.81,13.86 L28.88,14.27 L28.86,14.69 Z" fill="#262626" filter="url(#bl08)"/>
<rect x="0" y="0" width="44.3" height="28.8" fill="none" stroke="#2b2b2b" stroke-width="1.2"/>
</g>
<g transform="translate(116.30,202.60)">
<rect x="0" y="0" width="44.3" height="28.8" fill="url(#c110)"/>
<path d="M26.79,11.46 L26.80,11.92 L26.78,12.36 L26.81,12.75 L26.97,13.08 L27.25,13.40 L27.58,13.75 L27.84,14.16 L27.93,14.62 L27.79,15.08 L27.50,15.52 L27.14,15.91 L26.83,16.29 L26.62,16.70 L26.47,17.16 L26.31,17.65 L26.05,18.12 L25.67,18.48 L25.18,18.71 L24.64,18.82 L24.12,18.85 L23.63,18.89 L23.19,18.96 L22.77,19.07 L22.34,19.19 L21.90,19.29 L21.46,19.35 L21.02,19.39 L20.56,19.42 L20.09,19.44 L19.61,19.42 L19.15,19.33 L18.74,19.16 L18.39,18.89 L18.10,18.57 L17.83,18.24 L17.56,17.92 L17.29,17.59 L17.05,17.23 L16.93,16.80 L16.97,16.33 L17.15,15.85 L17.40,15.39 L17.60,14.97 L17.66,14.59 L17.56,14.18 L17.37,13.73 L17.22,13.22 L17.23,12.71 L17.47,12.25 L17.88,11.89 L18.40,11.63 L18.91,11.43 L19.37,11.22 L19.75,10.96 L20.12,10.67 L20.49,10.37 L20.91,10.12 L21.35,9.95 L21.80,9.83 L22.26,9.74 L22.72,9.64 L23.19,9.54 L23.68,9.46 L24.16,9.45 L24.62,9.51 L25.06,9.66 L25.46,9.86 L25.83,10.08 L26.18,10.34 L26.48,10.65 L26.69,11.02 Z" fill="#2e2e2e" filter="url(#bl08)"/>
<rect x="0" y="0" width="44.3" height="28.8" fill="none" stroke="#2b2b2b" stroke-width="1.2"/>
</g>
<g transform="translate(161.90,202.60)">
<rect x="0" y="0" width="44.3" height="28.8" fill="url(#c111)"/>
<path d="M26.80,15.00 L26.76,15.31 L26.56,15.60 L26.30,15.85 L26.07,16.09 L25.93,16.34 L25.84,16.61 L25.75,16.90 L25.56,17.14 L25.26,17.29 L24.87,17.33 L24.48,17.32 L24.15,17.31 L23.88,17.37 L23.67,17.52 L23.45,17.73 L23.20,17.93 L22.91,18.06 L22.60,18.10 L22.29,18.08 L21.98,18.04 L21.66,18.01 L21.34,17.99 L21.00,17.95 L20.69,17.85 L20.41,17.69 L20.17,17.49 L19.95,17.28 L19.70,17.09 L19.43,16.91 L19.18,16.70 L19.00,16.44 L18.97,16.14 L19.09,15.81 L19.31,15.50 L19.51,15.23 L19.60,15.00 L19.53,14.77 L19.37,14.51 L19.20,14.22 L19.14,13.92 L19.25,13.65 L19.48,13.45 L19.76,13.29 L20.00,13.12 L20.16,12.90 L20.28,12.62 L20.42,12.31 L20.62,12.05 L20.91,11.88 L21.26,11.83 L21.62,11.87 L21.97,11.92 L22.29,11.93 L22.60,11.90 L22.92,11.86 L23.25,11.84 L23.56,11.90 L23.86,12.03 L24.12,12.20 L24.36,12.37 L24.61,12.53 L24.84,12.70 L25.04,12.90 L25.17,13.14 L25.24,13.41 L25.29,13.66 L25.38,13.89 L25.58,14.07 L25.90,14.24 L26.29,14.44 L26.62,14.70 Z" fill="#303030" filter="url(#bl08)"/>
<rect x="0" y="0" width="44.3" height="28.8" fill="none" stroke="#2b2b2b" stroke-width="1.2"/>
</g>
<text x="257.50" y="150.00" font-size="6.9" text-anchor="middle" fill="#2a2a2a"  stroke="#2a2a2a" stroke-width="0.2">AML-5</text>
<text x="234.75" y="160.70" font-size="6.9" text-anchor="middle" fill="#2a2a2a"  stroke="#2a2a2a" stroke-width="0.2">Control</text>
<text x="280.35" y="160.70" font-size="6.7" text-anchor="middle" fill="#2a2a2a"  stroke="#2a2a2a" stroke-width="0.2">FTY720 4 µM</text>
<text x="234.75" y="200.90" font-size="6.8" text-anchor="middle" fill="#2a2a2a"  stroke="#2a2a2a" stroke-width="0.2">Ven 625 nM</text>
<text x="280.35" y="200.90" font-size="6.9" text-anchor="middle" fill="#2a2a2a"  stroke="#2a2a2a" stroke-width="0.2">Combo</text>
<g transform="translate(212.60,163.30)">
<rect x="0" y="0" width="44.3" height="28.8" fill="url(#c200)"/>
<path d="M28.53,12.78 L28.74,13.38 L28.97,13.99 L29.13,14.64 L29.15,15.31 L29.00,15.99 L28.68,16.65 L28.26,17.28 L27.79,17.88 L27.33,18.46 L26.87,19.05 L26.39,19.63 L25.85,20.19 L25.22,20.69 L24.52,21.12 L23.76,21.48 L22.97,21.77 L22.18,22.00 L21.38,22.20 L20.57,22.36 L19.77,22.46 L18.97,22.53 L18.17,22.56 L17.36,22.58 L16.54,22.59 L15.70,22.58 L14.86,22.51 L14.05,22.33 L13.33,22.03 L12.72,21.60 L12.23,21.09 L11.81,20.54 L11.43,19.98 L11.07,19.43 L10.74,18.87 L10.49,18.28 L10.35,17.65 L10.34,17.00 L10.43,16.36 L10.55,15.72 L10.64,15.10 L10.67,14.46 L10.66,13.80 L10.70,13.11 L10.86,12.41 L11.19,11.74 L11.70,11.13 L12.33,10.59 L13.04,10.12 L13.78,9.71 L14.53,9.33 L15.28,8.98 L16.05,8.68 L16.83,8.41 L17.62,8.19 L18.42,8.00 L19.23,7.83 L20.05,7.69 L20.88,7.60 L21.70,7.60 L22.51,7.69 L23.27,7.88 L23.98,8.14 L24.66,8.44 L25.33,8.75 L25.98,9.08 L26.62,9.44 L27.18,9.87 L27.63,10.38 L27.96,10.95 L28.18,11.56 L28.35,12.18 Z" fill="#2a2a2a" filter="url(#bl08)"/>
<rect x="1.8" y="24.6" width="12.4" height="1.5" fill="#f4f4f4"/>
<rect x="0" y="0" width="44.3" height="28.8" fill="none" stroke="#2b2b2b" stroke-width="1.2"/>
</g>
<g transform="translate(258.20,163.30)">
<rect x="0" y="0" width="44.3" height="28.8" fill="url(#c201)"/>
<ellipse cx="21" cy="13" rx="12" ry="12" fill="#a0a0a0" opacity="0.45" filter="url(#bl2)"/><ellipse cx="16" cy="7.8" rx="6.2" ry="4.8" fill="#4a4a4a" opacity="0.9" filter="url(#bl1)"/><ellipse cx="21.5" cy="9.5" rx="4" ry="3.5" fill="#4e4e4e" opacity="0.85" filter="url(#bl1)"/><ellipse cx="20.5" cy="14" rx="4.5" ry="4" fill="#666" opacity="0.75" filter="url(#bl12)"/><ellipse cx="25.5" cy="13" rx="4.6" ry="7" fill="#464646" opacity="0.9" filter="url(#bl1)"/><ellipse cx="19" cy="19.5" rx="4.5" ry="3.2" fill="#7a7a7a" opacity="0.6" filter="url(#bl12)"/><g filter="url(#bl07)" opacity="0.5"><circle cx="19.71" cy="14.30" r="1.12" fill="#555" opacity="0.22"/><circle cx="16.20" cy="11.02" r="0.65" fill="#555" opacity="0.35"/><circle cx="26.30" cy="13.13" r="0.66" fill="#555" opacity="0.23"/><circle cx="13.86" cy="15.26" r="0.70" fill="#555" opacity="0.27"/><circle cx="14.93" cy="6.44" r="1.06" fill="#555" opacity="0.32"/><circle cx="22.41" cy="11.81" r="1.29" fill="#555" opacity="0.29"/><circle cx="22.54" cy="13.75" r="0.85" fill="#555" opacity="0.44"/><circle cx="23.74" cy="17.24" r="1.11" fill="#555" opacity="0.31"/><circle cx="19.37" cy="11.55" r="0.65" fill="#555" opacity="0.26"/><circle cx="18.71" cy="7.65" r="0.85" fill="#555" opacity="0.38"/><circle cx="16.82" cy="13.13" r="1.24" fill="#555" opacity="0.41"/><circle cx="21.24" cy="17.73" r="1.02" fill="#555" opacity="0.46"/><circle cx="20.45" cy="8.24" r="1.38" fill="#555" opacity="0.24"/><circle cx="14.37" cy="15.33" r="0.72" fill="#555" opacity="0.35"/><circle cx="27.85" cy="13.53" r="1.21" fill="#555" opacity="0.37"/><circle cx="24.18" cy="9.19" r="1.16" fill="#555" opacity="0.38"/><circle cx="16.07" cy="9.60" r="1.27" fill="#555" opacity="0.48"/><circle cx="14.05" cy="13.01" r="0.65" fill="#555" opacity="0.41"/><circle cx="15.60" cy="5.64" r="1.26" fill="#555" opacity="0.29"/><circle cx="15.67" cy="16.13" r="0.62" fill="#555" opacity="0.34"/><circle cx="22.22" cy="13.92" r="0.65" fill="#555" opacity="0.43"/><circle cx="23.68" cy="14.51" r="0.91" fill="#555" opacity="0.46"/><circle cx="25.87" cy="14.40" r="1.04" fill="#555" opacity="0.47"/><circle cx="24.48" cy="5.36" r="0.82" fill="#555" opacity="0.32"/><circle cx="15.72" cy="17.76" r="1.37" fill="#555" opacity="0.25"/><circle cx="22.67" cy="14.98" r="0.79" fill="#555" opacity="0.35"/><circle cx="17.58" cy="10.09" r="0.60" fill="#555" opacity="0.33"/><circle cx="16.64" cy="16.16" r="1.36" fill="#555" opacity="0.41"/><circle cx="14.29" cy="11.42" r="1.14" fill="#555" opacity="0.22"/><circle cx="27.26" cy="7.93" r="1.30" fill="#555" opacity="0.44"/></g>
<rect x="0" y="0" width="44.3" height="28.8" fill="none" stroke="#2b2b2b" stroke-width="1.2"/>
</g>
<g transform="translate(212.60,202.60)">
<rect x="0" y="0" width="44.3" height="28.8" fill="url(#c210)"/>
<path d="M32.85,11.83 L32.50,12.55 L32.87,13.27 L33.51,14.06 L33.73,14.89 L33.28,15.66 L32.44,16.31 L31.57,16.90 L30.73,17.46 L29.75,17.91 L28.60,18.19 L27.51,18.42 L26.70,18.81 L26.10,19.46 L25.47,20.22 L24.63,20.84 L23.59,21.19 L22.47,21.34 L21.35,21.42 L20.23,21.43 L19.14,21.32 L18.09,21.16 L17.00,21.12 L15.78,21.26 L14.50,21.33 L13.43,21.03 L12.81,20.29 L12.46,19.42 L11.90,18.82 L10.86,18.53 L9.63,18.26 L8.90,17.69 L8.98,16.82 L9.42,15.92 L9.44,15.21 L8.71,14.64 L7.74,14.02 L7.36,13.28 L7.89,12.52 L8.88,11.85 L9.64,11.23 L9.91,10.58 L9.97,9.84 L10.17,9.10 L10.56,8.38 L10.96,7.62 L11.34,6.78 L11.92,5.97 L12.88,5.41 L14.16,5.22 L15.51,5.25 L16.71,5.24 L17.78,5.08 L18.82,4.86 L19.88,4.69 L20.96,4.57 L22.06,4.45 L23.17,4.42 L24.21,4.65 L25.06,5.16 L25.78,5.74 L26.63,6.06 L27.82,6.05 L29.17,6.03 L30.19,6.38 L30.58,7.13 L30.64,7.99 L31.03,8.63 L32.07,9.03 L33.29,9.47 L33.91,10.14 L33.59,11.00 Z" fill="#2c2c2c" filter="url(#bl08)"/><circle cx="36.3" cy="12.6" r="0.9" fill="#444"/>
<rect x="0" y="0" width="44.3" height="28.8" fill="none" stroke="#2b2b2b" stroke-width="1.2"/>
</g>
<g transform="translate(258.20,202.60)">
<rect x="0" y="0" width="44.3" height="28.8" fill="url(#c211)"/>
<ellipse cx="21.5" cy="12.5" rx="9" ry="9" fill="#a0a0a0" opacity="0.4" filter="url(#bl2)"/><ellipse cx="20.3" cy="13.2" rx="4.8" ry="5.2" fill="#4c4c4c" opacity="0.9" filter="url(#bl1)"/><ellipse cx="26" cy="6.5" rx="4" ry="2.8" fill="#8a8a8a" opacity="0.5" filter="url(#bl12)"/><g filter="url(#bl07)" opacity="0.5"><circle cx="16.95" cy="14.25" r="1.25" fill="#555" opacity="0.34"/><circle cx="16.65" cy="12.79" r="0.73" fill="#555" opacity="0.35"/><circle cx="17.42" cy="9.20" r="0.67" fill="#555" opacity="0.29"/><circle cx="25.45" cy="15.85" r="1.09" fill="#555" opacity="0.21"/><circle cx="26.84" cy="12.34" r="1.06" fill="#555" opacity="0.38"/><circle cx="21.27" cy="13.40" r="0.97" fill="#555" opacity="0.22"/><circle cx="21.94" cy="15.38" r="0.62" fill="#555" opacity="0.34"/><circle cx="15.96" cy="14.98" r="0.96" fill="#555" opacity="0.39"/><circle cx="16.31" cy="13.01" r="0.92" fill="#555" opacity="0.28"/><circle cx="26.98" cy="12.91" r="1.19" fill="#555" opacity="0.41"/><circle cx="20.01" cy="15.28" r="0.80" fill="#555" opacity="0.22"/><circle cx="21.35" cy="9.55" r="1.19" fill="#555" opacity="0.32"/><circle cx="26.24" cy="11.58" r="0.60" fill="#555" opacity="0.26"/><circle cx="24.22" cy="10.96" r="1.29" fill="#555" opacity="0.32"/><circle cx="25.07" cy="15.01" r="1.14" fill="#555" opacity="0.28"/><circle cx="23.65" cy="14.61" r="1.27" fill="#555" opacity="0.43"/><circle cx="22.91" cy="14.75" r="0.67" fill="#555" opacity="0.22"/><circle cx="21.62" cy="10.96" r="0.99" fill="#555" opacity="0.33"/><circle cx="22.81" cy="17.63" r="0.69" fill="#555" opacity="0.39"/><circle cx="23.65" cy="15.39" r="0.75" fill="#555" opacity="0.28"/></g><g filter="url(#bl05)" opacity="0.6"><circle cx="24.26" cy="18.51" r="0.78" fill="#666" opacity="0.39"/><circle cx="22.47" cy="19.80" r="0.88" fill="#666" opacity="0.40"/><circle cx="17.64" cy="12.89" r="0.40" fill="#666" opacity="0.35"/><circle cx="19.61" cy="12.18" r="0.88" fill="#666" opacity="0.29"/><circle cx="21.13" cy="14.19" r="1.00" fill="#666" opacity="0.50"/><circle cx="25.23" cy="8.77" r="0.42" fill="#666" opacity="0.33"/><circle cx="18.81" cy="13.03" r="0.97" fill="#666" opacity="0.35"/><circle cx="24.99" cy="18.86" r="0.47" fill="#666" opacity="0.57"/><circle cx="15.64" cy="14.63" r="0.61" fill="#666" opacity="0.39"/><circle cx="21.43" cy="14.02" r="0.92" fill="#666" opacity="0.29"/><circle cx="21.59" cy="9.93" r="0.98" fill="#666" opacity="0.56"/><circle cx="21.20" cy="6.20" r="0.75" fill="#666" opacity="0.49"/><circle cx="24.68" cy="16.57" r="0.90" fill="#666" opacity="0.28"/><circle cx="27.60" cy="9.54" r="0.65" fill="#666" opacity="0.35"/><circle cx="16.69" cy="14.36" r="1.00" fill="#666" opacity="0.35"/><circle cx="22.90" cy="13.32" r="0.83" fill="#666" opacity="0.60"/><circle cx="15.78" cy="13.13" r="0.73" fill="#666" opacity="0.50"/><circle cx="22.04" cy="18.85" r="0.73" fill="#666" opacity="0.45"/><circle cx="22.17" cy="15.51" r="0.61" fill="#666" opacity="0.57"/><circle cx="17.65" cy="17.82" r="0.58" fill="#666" opacity="0.24"/><circle cx="27.48" cy="15.83" r="0.87" fill="#666" opacity="0.35"/><circle cx="18.43" cy="7.22" r="0.94" fill="#666" opacity="0.58"/><circle cx="14.37" cy="17.38" r="0.98" fill="#666" opacity="0.44"/><circle cx="24.88" cy="9.50" r="0.63" fill="#666" opacity="0.30"/><circle cx="22.91" cy="11.11" r="0.44" fill="#666" opacity="0.52"/><circle cx="21.77" cy="7.89" r="0.90" fill="#666" opacity="0.22"/><circle cx="20.81" cy="16.80" r="0.65" fill="#666" opacity="0.27"/><circle cx="24.78" cy="14.76" r="0.94" fill="#666" opacity="0.59"/><circle cx="20.87" cy="7.86" r="0.55" fill="#666" opacity="0.58"/><circle cx="14.47" cy="11.94" r="0.42" fill="#666" opacity="0.28"/></g><ellipse cx="31" cy="4" rx="5" ry="2" fill="#fff" opacity="0.5" filter="url(#bl1)"/>
<rect x="0" y="0" width="44.3" height="28.8" fill="none" stroke="#2b2b2b" stroke-width="1.2"/>
</g>
<text x="0.50" y="258.30" font-size="11" text-anchor="start" fill="#111" font-weight="bold" stroke="#111" stroke-width="0.45">D</text>
<text transform="translate(18.30,304.00) rotate(-90)" font-size="7.8" text-anchor="middle" fill="#2a2a2a" textLength="62.22" lengthAdjust="spacingAndGlyphs"  stroke="#2a2a2a" stroke-width="0.2">Relative venetoclax</text>
<text transform="translate(27.20,302.50) rotate(-90)" font-size="7.8" text-anchor="middle" fill="#2a2a2a" textLength="52.71" lengthAdjust="spacingAndGlyphs"  stroke="#2a2a2a" stroke-width="0.2">IC50 value (nM)</text>
<line x1="52.30" y1="267.30" x2="52.30" y2="344.10" stroke="#222" stroke-width="1.1" />
<line x1="49.30" y1="343.70" x2="52.30" y2="343.70" stroke="#222" stroke-width="1.0" />
<text x="47.40" y="346.10" font-size="7.0" text-anchor="end" fill="#333"  stroke="#333" stroke-width="0.2">0.00</text>
<line x1="49.30" y1="325.27" x2="52.30" y2="325.27" stroke="#222" stroke-width="1.0" />
<text x="47.40" y="327.67" font-size="7.0" text-anchor="end" fill="#333"  stroke="#333" stroke-width="0.2">0.25</text>
<line x1="49.30" y1="306.85" x2="52.30" y2="306.85" stroke="#222" stroke-width="1.0" />
<text x="47.40" y="309.25" font-size="7.0" text-anchor="end" fill="#333"  stroke="#333" stroke-width="0.2">0.50</text>
<line x1="49.30" y1="288.43" x2="52.30" y2="288.43" stroke="#222" stroke-width="1.0" />
<text x="47.40" y="290.82" font-size="7.0" text-anchor="end" fill="#333"  stroke="#333" stroke-width="0.2">0.75</text>
<line x1="49.30" y1="270.00" x2="52.30" y2="270.00" stroke="#222" stroke-width="1.0" />
<text x="47.40" y="272.40" font-size="7.0" text-anchor="end" fill="#333"  stroke="#333" stroke-width="0.2">1.00</text>
<line x1="51.10" y1="343.70" x2="318.60" y2="343.70" stroke="#222" stroke-width="1.3" />
<rect x="56.20" y="270.00" width="5.30" height="73.70" fill="#141414" />
<line x1="58.85" y1="343.70" x2="58.85" y2="346.70" stroke="#222" stroke-width="1.0" />
<text transform="translate(62.45,352.20) rotate(-45)" font-size="6.6" text-anchor="end" fill="#333"  stroke="#333" stroke-width="0.2">ALONE</text>
<rect x="68.20" y="270.37" width="5.30" height="73.33" fill="#c6c6c9" />
<line x1="70.85" y1="343.70" x2="70.85" y2="346.70" stroke="#222" stroke-width="1.0" />
<text transform="translate(74.45,352.20) rotate(-45)" font-size="6.6" text-anchor="end" fill="#333"  stroke="#333" stroke-width="0.2">AML-6</text>
<rect x="80.20" y="270.37" width="5.30" height="73.33" fill="#c6c6c9" />
<line x1="82.85" y1="343.70" x2="82.85" y2="346.70" stroke="#222" stroke-width="1.0" />
<text transform="translate(86.45,352.20) rotate(-45)" font-size="6.6" text-anchor="end" fill="#333"  stroke="#333" stroke-width="0.2">AML-9</text>
<rect x="92.20" y="270.37" width="5.30" height="73.33" fill="#c6c6c9" />
<line x1="94.85" y1="343.70" x2="94.85" y2="346.70" stroke="#222" stroke-width="1.0" />
<text transform="translate(98.45,352.20) rotate(-45)" font-size="6.6" text-anchor="end" fill="#333"  stroke="#333" stroke-width="0.2">AML-14</text>
<rect x="104.20" y="270.37" width="5.30" height="73.33" fill="#c6c6c9" />
<line x1="106.85" y1="343.70" x2="106.85" y2="346.70" stroke="#222" stroke-width="1.0" />
<text transform="translate(110.45,352.20) rotate(-45)" font-size="6.6" text-anchor="end" fill="#333"  stroke="#333" stroke-width="0.2">AML-15</text>
<rect x="116.20" y="270.37" width="5.30" height="73.33" fill="#c6c6c9" />
<line x1="118.85" y1="343.70" x2="118.85" y2="346.70" stroke="#222" stroke-width="1.0" />
<text transform="translate(122.45,352.20) rotate(-45)" font-size="6.6" text-anchor="end" fill="#333"  stroke="#333" stroke-width="0.2">AML-17</text>
<rect x="128.20" y="270.37" width="5.30" height="73.33" fill="#c6c6c9" />
<line x1="130.85" y1="343.70" x2="130.85" y2="346.70" stroke="#222" stroke-width="1.0" />
<text transform="translate(134.45,352.20) rotate(-45)" font-size="6.6" text-anchor="end" fill="#333"  stroke="#333" stroke-width="0.2">AML-23</text>
<rect x="140.20" y="273.32" width="5.30" height="70.38" fill="#c6c6c9" />
<line x1="142.85" y1="343.70" x2="142.85" y2="346.70" stroke="#222" stroke-width="1.0" />
<text transform="translate(146.45,352.20) rotate(-45)" font-size="6.6" text-anchor="end" fill="#333"  stroke="#333" stroke-width="0.2">AML-13</text>
<rect x="152.20" y="274.42" width="5.30" height="69.28" fill="#c6c6c9" />
<line x1="154.85" y1="343.70" x2="154.85" y2="346.70" stroke="#222" stroke-width="1.0" />
<text transform="translate(158.45,352.20) rotate(-45)" font-size="6.6" text-anchor="end" fill="#333"  stroke="#333" stroke-width="0.2">AML-8</text>
<rect x="164.20" y="283.27" width="5.30" height="60.43" fill="#0c4a8c" />
<line x1="166.85" y1="343.70" x2="166.85" y2="346.70" stroke="#222" stroke-width="1.0" />
<text transform="translate(170.45,352.20) rotate(-45)" font-size="6.6" text-anchor="end" fill="#333"  stroke="#333" stroke-width="0.2">AML-24</text>
<rect x="176.20" y="292.85" width="5.30" height="50.85" fill="#0c4a8c" />
<line x1="178.85" y1="343.70" x2="178.85" y2="346.70" stroke="#222" stroke-width="1.0" />
<text transform="translate(182.45,352.20) rotate(-45)" font-size="6.6" text-anchor="end" fill="#333"  stroke="#333" stroke-width="0.2">AML-18</text>
<rect x="188.20" y="295.80" width="5.30" height="47.90" fill="#0c4a8c" />
<line x1="190.85" y1="343.70" x2="190.85" y2="346.70" stroke="#222" stroke-width="1.0" />
<text transform="translate(194.45,352.20) rotate(-45)" font-size="6.6" text-anchor="end" fill="#333"  stroke="#333" stroke-width="0.2">AML-16</text>
<rect x="200.20" y="307.59" width="5.30" height="36.11" fill="#0c4a8c" />
<line x1="202.85" y1="343.70" x2="202.85" y2="346.70" stroke="#222" stroke-width="1.0" />
<text transform="translate(206.45,352.20) rotate(-45)" font-size="6.6" text-anchor="end" fill="#333"  stroke="#333" stroke-width="0.2">AML-10</text>
<rect x="212.20" y="307.96" width="5.30" height="35.74" fill="#0c4a8c" />
<line x1="214.85" y1="343.70" x2="214.85" y2="346.70" stroke="#222" stroke-width="1.0" />
<text transform="translate(218.45,352.20) rotate(-45)" font-size="6.6" text-anchor="end" fill="#333"  stroke="#333" stroke-width="0.2">AML-21</text>
<rect x="224.20" y="310.90" width="5.30" height="32.80" fill="#0c4a8c" />
<line x1="226.85" y1="343.70" x2="226.85" y2="346.70" stroke="#222" stroke-width="1.0" />
<text transform="translate(230.45,352.20) rotate(-45)" font-size="6.6" text-anchor="end" fill="#333"  stroke="#333" stroke-width="0.2">AML-22</text>
<rect x="236.20" y="319.75" width="5.30" height="23.95" fill="#0c4a8c" />
<line x1="238.85" y1="343.70" x2="238.85" y2="346.70" stroke="#222" stroke-width="1.0" />
<text transform="translate(242.45,352.20) rotate(-45)" font-size="6.6" text-anchor="end" fill="#333"  stroke="#333" stroke-width="0.2">AML-25</text>
<rect x="248.20" y="328.22" width="5.30" height="15.48" fill="#0c4a8c" />
<line x1="250.85" y1="343.70" x2="250.85" y2="346.70" stroke="#222" stroke-width="1.0" />
<text transform="translate(254.45,352.20) rotate(-45)" font-size="6.6" text-anchor="end" fill="#333"  stroke="#333" stroke-width="0.2">AML-12</text>
<rect x="260.20" y="337.07" width="5.30" height="6.63" fill="#0c4a8c" />
<line x1="262.85" y1="343.70" x2="262.85" y2="346.70" stroke="#222" stroke-width="1.0" />
<text transform="translate(266.45,352.20) rotate(-45)" font-size="6.6" text-anchor="end" fill="#333"  stroke="#333" stroke-width="0.2">AML-26</text>
<rect x="272.20" y="338.17" width="5.30" height="5.53" fill="#0c4a8c" />
<line x1="274.85" y1="343.70" x2="274.85" y2="346.70" stroke="#222" stroke-width="1.0" />
<text transform="translate(278.45,352.20) rotate(-45)" font-size="6.6" text-anchor="end" fill="#333"  stroke="#333" stroke-width="0.2">AML-11</text>
<rect x="284.20" y="342.82" width="5.30" height="0.88" fill="#0c4a8c" />
<line x1="286.85" y1="343.70" x2="286.85" y2="346.70" stroke="#222" stroke-width="1.0" />
<text transform="translate(290.45,352.20) rotate(-45)" font-size="6.6" text-anchor="end" fill="#333"  stroke="#333" stroke-width="0.2">AML-20</text>
<rect x="296.20" y="342.96" width="5.30" height="0.74" fill="#0c4a8c" />
<line x1="298.85" y1="343.70" x2="298.85" y2="346.70" stroke="#222" stroke-width="1.0" />
<text transform="translate(302.45,352.20) rotate(-45)" font-size="6.6" text-anchor="end" fill="#333"  stroke="#333" stroke-width="0.2">AML-7</text>
<rect x="308.20" y="343.26" width="5.30" height="0.44" fill="#0c4a8c" />
<line x1="310.85" y1="343.70" x2="310.85" y2="346.70" stroke="#222" stroke-width="1.0" />
<text transform="translate(314.45,352.20) rotate(-45)" font-size="6.6" text-anchor="end" fill="#333"  stroke="#333" stroke-width="0.2">AML-19</text>
<line x1="67.60" y1="262.90" x2="316.40" y2="262.90" stroke="#333" stroke-width="1.0" />
<line x1="67.60" y1="261.50" x2="67.60" y2="264.30" stroke="#333" stroke-width="1.0" />
<line x1="316.40" y1="261.50" x2="316.40" y2="264.30" stroke="#333" stroke-width="1.0" />
<text x="195.10" y="260.20" font-size="6.7" text-anchor="middle" fill="#333"  stroke="#333" stroke-width="0.2">+ FTY720</text>
<text x="349.80" y="259.00" font-size="11" text-anchor="start" fill="#111" font-weight="bold" stroke="#111" stroke-width="0.45">E</text>
<text transform="translate(368.60,305.50) rotate(-90)" font-size="7.8" text-anchor="middle" fill="#2a2a2a" textLength="61.50" lengthAdjust="spacingAndGlyphs"  stroke="#2a2a2a" stroke-width="0.2">Relative A-1331852</text>
<text transform="translate(379.40,306.00) rotate(-90)" font-size="7.8" text-anchor="middle" fill="#2a2a2a" textLength="52.71" lengthAdjust="spacingAndGlyphs"  stroke="#2a2a2a" stroke-width="0.2">IC50 value (nM)</text>
<line x1="403.00" y1="267.80" x2="403.00" y2="343.90" stroke="#222" stroke-width="1.1" />
<line x1="400.30" y1="343.50" x2="403.00" y2="343.50" stroke="#222" stroke-width="1.0" />
<text x="398.40" y="345.90" font-size="7.0" text-anchor="end" fill="#333"  stroke="#333" stroke-width="0.2">0.00</text>
<line x1="400.30" y1="325.23" x2="403.00" y2="325.23" stroke="#222" stroke-width="1.0" />
<text x="398.40" y="327.62" font-size="7.0" text-anchor="end" fill="#333"  stroke="#333" stroke-width="0.2">0.25</text>
<line x1="400.30" y1="306.95" x2="403.00" y2="306.95" stroke="#222" stroke-width="1.0" />
<text x="398.40" y="309.35" font-size="7.0" text-anchor="end" fill="#333"  stroke="#333" stroke-width="0.2">0.50</text>
<line x1="400.30" y1="288.67" x2="403.00" y2="288.67" stroke="#222" stroke-width="1.0" />
<text x="398.40" y="291.07" font-size="7.0" text-anchor="end" fill="#333"  stroke="#333" stroke-width="0.2">0.75</text>
<line x1="400.30" y1="270.40" x2="403.00" y2="270.40" stroke="#222" stroke-width="1.0" />
<text x="398.40" y="272.80" font-size="7.0" text-anchor="end" fill="#333"  stroke="#333" stroke-width="0.2">1.00</text>
<line x1="402.30" y1="343.50" x2="424.50" y2="343.50" stroke="#222" stroke-width="1.3" />
<rect x="405.40" y="271.00" width="5.40" height="72.50" fill="#141414" />
<rect x="414.9" y="338.9" width="5.0" height="4.60" fill="#5cb860" stroke="#3d8a40" stroke-width="0.5"/>
<line x1="408.10" y1="343.50" x2="408.10" y2="346.50" stroke="#222" stroke-width="1.0" />
<text transform="translate(411.70,352.00) rotate(-45)" font-size="6.6" text-anchor="end" fill="#333"  stroke="#333" stroke-width="0.2">ALONE</text>
<line x1="417.40" y1="343.50" x2="417.40" y2="346.50" stroke="#222" stroke-width="1.0" />
<text transform="translate(421.00,352.00) rotate(-45)" font-size="6.6" text-anchor="end" fill="#333"  stroke="#333" stroke-width="0.2">AML-8</text>
<text x="404.20" y="260.40" font-size="6.7" text-anchor="start" fill="#333"  stroke="#333" stroke-width="0.2">+ FTY720</text>
<line x1="412.80" y1="263.60" x2="423.80" y2="263.60" stroke="#333" stroke-width="1.0" />
<line x1="412.80" y1="262.20" x2="412.80" y2="265.00" stroke="#333" stroke-width="1.0" />
<line x1="423.80" y1="262.20" x2="423.80" y2="265.00" stroke="#333" stroke-width="1.0" />
<text x="0.30" y="396.60" font-size="11" text-anchor="start" fill="#111" font-weight="bold" stroke="#111" stroke-width="0.45">F</text>
<text x="59.60" y="398.30" font-size="6.5" text-anchor="middle" fill="#2a2a2a"  stroke="#2a2a2a" stroke-width="0.2">% Viability</text>
<text x="132.20" y="398.30" font-size="6.5" text-anchor="middle" fill="#2a2a2a"  stroke="#2a2a2a" stroke-width="0.2">CI values</text>
<text x="131.90" y="408.60" font-size="6.8" text-anchor="middle" fill="#5a9fd6" textLength="61.29" lengthAdjust="spacingAndGlyphs" stroke="none">Synergistic effect &lt; 1</text>
<rect x="42.4" y="412.9" width="34.6" height="4.3" fill="url(#gFo)" stroke="#222" stroke-width="0.7"/>
<rect x="114.3" y="412.9" width="35.7" height="4.3" fill="url(#gFb)" stroke="#222" stroke-width="0.7"/>
<text x="42.90" y="424.70" font-size="6.3" text-anchor="middle" fill="#2a2a2a"  stroke="#2a2a2a" stroke-width="0.2">100</text>
<text x="59.20" y="424.70" font-size="6.3" text-anchor="middle" fill="#2a2a2a"  stroke="#2a2a2a" stroke-width="0.2">50</text>
<text x="76.50" y="424.70" font-size="6.3" text-anchor="middle" fill="#2a2a2a"  stroke="#2a2a2a" stroke-width="0.2">0</text>
<text x="115.30" y="424.70" font-size="6.3" text-anchor="middle" fill="#2a2a2a"  stroke="#2a2a2a" stroke-width="0.2">1</text>
<text x="132.70" y="424.70" font-size="6.3" text-anchor="middle" fill="#2a2a2a"  stroke="#2a2a2a" stroke-width="0.2">0.5</text>
<text x="149.50" y="424.70" font-size="6.3" text-anchor="middle" fill="#2a2a2a"  stroke="#2a2a2a" stroke-width="0.2">0</text>
<text x="11.00" y="444.80" font-size="6.5" text-anchor="start" fill="#2a2a2a"  stroke="#2a2a2a" stroke-width="0.2">AML-6</text>
<text x="87.40" y="452.60" font-size="7.6" text-anchor="middle" fill="#2a2a2a" textLength="38.67" lengthAdjust="spacingAndGlyphs"  stroke="#2a2a2a" stroke-width="0.2">Venetoclax</text>
<polygon points="46.70,462.40 82.60,457.60 82.60,462.40" fill="#111" />
<polygon points="35.30,472.70 35.30,509.70 30.30,509.70" fill="#111" />
<text transform="translate(25.80,498.30) rotate(-90)" font-size="7.2" text-anchor="middle" fill="#2a2a2a" textLength="23.56" lengthAdjust="spacingAndGlyphs"  stroke="#2a2a2a" stroke-width="0.2">FTY720</text>
<line x1="87.70" y1="484.90" x2="99.30" y2="484.90" stroke="#222" stroke-width="0.9" />
<polygon points="101.80,484.90 98.40,483.20 98.40,486.60" fill="#222" />
<line x1="160.40" y1="484.90" x2="171.80" y2="484.90" stroke="#222" stroke-width="0.9" />
<polygon points="174.30,484.90 170.90,483.20 170.90,486.60" fill="#222" />
<polygon points="119.30,468.40 155.30,463.30 155.30,468.40" fill="#111" />
<polygon points="114.40,471.50 114.40,510.40 109.30,510.40" fill="#111" />
<rect x="37.20" y="464.20" width="45.90" height="46.30" fill="#f5e2d6" />
<rect x="37.20" y="464.20" width="7.60" height="9.40" fill="#ffffff" />
<rect x="44.80" y="464.20" width="38.30" height="9.40" fill="#f3dccd" />
<rect x="44.80" y="464.20" width="7.50" height="9.40" fill="#f1d2c0" />
<rect x="37.20" y="473.60" width="7.60" height="36.90" fill="#f6e4da" />
<rect x="74.10" y="500.50" width="9.00" height="10.00" fill="#f5c0a2" />
<rect x="77.10" y="503.50" width="6.00" height="7.00" fill="#f4a47a" filter="url(#bl1)"/>
<path d="M83.10,473.60 V464.20 H37.20 V510.50 H83.10" fill="none" stroke="#1e1e1e" stroke-width="1.1"/>
<path d="M83.10,473.60 V510.50" fill="none" stroke="#2a1f1a" stroke-width="1.1" stroke-dasharray="2.3,1.3"/>
<path d="M44.80,510.00 V473.60 H82.80" fill="none" stroke="#3a2a22" stroke-width="1.2" stroke-dasharray="2.3,1.3"/>
<rect x="117.50" y="471.50" width="38.90" height="38.90" fill="#ffffff" />
<rect x="133.40" y="472.10" width="7.30" height="8.50" fill="#a9d1e6" />
<rect x="133.40" y="501.30" width="7.30" height="8.10" fill="#a9d1e6" />
<path d="M117.50,491.10 V471.50 H156.40 V491.10" fill="none" stroke="#1e1e1e" stroke-width="1.1"/>
<path d="M117.50,491.10 H156.40 M117.50,491.10 V510.40 M156.40,491.10 V510.40 M117.50,510.40 H156.40" fill="none" stroke="#222" stroke-width="1.15" stroke-dasharray="2.3,1.3"/>
<text x="11.00" y="535.30" font-size="6.5" text-anchor="start" fill="#2a2a2a"  stroke="#2a2a2a" stroke-width="0.2">AML-7</text>
<text x="87.40" y="543.10" font-size="7.6" text-anchor="middle" fill="#2a2a2a" textLength="38.67" lengthAdjust="spacingAndGlyphs"  stroke="#2a2a2a" stroke-width="0.2">Venetoclax</text>
<polygon points="46.90,553.60 82.50,548.80 82.50,553.60" fill="#111" />
<polygon points="35.50,563.90 35.50,600.70 30.50,600.70" fill="#111" />
<text transform="translate(26.00,589.30) rotate(-90)" font-size="7.2" text-anchor="middle" fill="#2a2a2a" textLength="23.56" lengthAdjust="spacingAndGlyphs"  stroke="#2a2a2a" stroke-width="0.2">FTY720</text>
<line x1="87.70" y1="575.60" x2="99.30" y2="575.60" stroke="#222" stroke-width="0.9" />
<polygon points="101.80,575.60 98.40,573.90 98.40,577.30" fill="#222" />
<line x1="160.40" y1="575.60" x2="171.80" y2="575.60" stroke="#222" stroke-width="0.9" />
<polygon points="174.30,575.60 170.90,573.90 170.90,577.30" fill="#222" />
<polygon points="119.30,558.50 155.30,553.40 155.30,558.50" fill="#111" />
<polygon points="114.40,561.60 114.40,600.80 109.30,600.80" fill="#111" />
<rect x="37.40" y="555.40" width="45.60" height="46.10" fill="#f3dacb" />
<rect x="37.40" y="555.40" width="7.60" height="8.20" fill="#ffffff" />
<rect x="45.00" y="555.40" width="38.00" height="8.20" fill="#f3cfb9" />
<rect x="75.00" y="555.40" width="8.00" height="8.20" fill="#f0b99a" />
<rect x="75.00" y="563.60" width="8.00" height="19.50" fill="#f0c5a8" />
<rect x="37.40" y="563.60" width="7.60" height="27.80" fill="#f5e0d6" />
<rect x="45.00" y="583.00" width="38.00" height="8.70" fill="#f38a52" />
<rect x="37.40" y="591.60" width="45.60" height="9.90" fill="#ef6a28" />
<rect x="37.40" y="591.60" width="7.60" height="9.90" fill="#f07a40" />
<path d="M83.00,563.60 V555.40 H37.40 V601.50 H83.00" fill="none" stroke="#1e1e1e" stroke-width="1.1"/>
<path d="M83.00,563.60 V601.50" fill="none" stroke="#2a1f1a" stroke-width="1.1" stroke-dasharray="2.3,1.3"/>
<path d="M45.00,601.00 V563.60 H82.70" fill="none" stroke="#3a2a22" stroke-width="1.2" stroke-dasharray="2.3,1.3"/>
<rect x="117.50" y="561.60" width="38.90" height="39.20" fill="#ffffff" />
<rect x="117.50" y="580.90" width="38.90" height="19.90" fill="#1f6cbd" />
<rect x="117.50" y="589.60" width="38.90" height="8.00" fill="#1c65b2" />
<rect x="133.50" y="582.60" width="15.00" height="6.00" fill="#2672c2" />
<path d="M117.50,580.90 V561.60 H156.40 V580.90" fill="none" stroke="#1e1e1e" stroke-width="1.1"/>
<path d="M117.50,580.90 H156.40 M117.50,580.90 V600.80 M156.40,580.90 V600.80 M117.50,600.80 H156.40" fill="none" stroke="#1a3550" stroke-width="1.15" stroke-dasharray="2.3,1.3"/>
<text x="11.00" y="628.90" font-size="6.5" text-anchor="start" fill="#2a2a2a"  stroke="#2a2a2a" stroke-width="0.2">AML-11</text>
<text x="87.40" y="636.70" font-size="7.6" text-anchor="middle" fill="#2a2a2a" textLength="38.67" lengthAdjust="spacingAndGlyphs"  stroke="#2a2a2a" stroke-width="0.2">Venetoclax</text>
<polygon points="46.00,647.40 82.80,642.60 82.80,647.40" fill="#111" />
<polygon points="34.60,657.70 34.60,694.30 29.60,694.30" fill="#111" />
<text transform="translate(25.10,682.90) rotate(-90)" font-size="7.2" text-anchor="middle" fill="#2a2a2a" textLength="23.56" lengthAdjust="spacingAndGlyphs"  stroke="#2a2a2a" stroke-width="0.2">FTY720</text>
<line x1="87.70" y1="671.10" x2="99.30" y2="671.10" stroke="#222" stroke-width="0.9" />
<polygon points="101.80,671.10 98.40,669.40 98.40,672.80" fill="#222" />
<line x1="160.40" y1="671.10" x2="171.80" y2="671.10" stroke="#222" stroke-width="0.9" />
<polygon points="174.30,671.10 170.90,669.40 170.90,672.80" fill="#222" />
<polygon points="119.30,653.40 155.30,648.30 155.30,653.40" fill="#111" />
<polygon points="114.40,656.50 114.40,695.40 109.30,695.40" fill="#111" />
<rect x="36.50" y="649.20" width="46.80" height="45.90" fill="#f0d8c8" />
<rect x="36.50" y="649.20" width="8.20" height="8.80" fill="#ffffff" />
<rect x="36.50" y="658.00" width="8.20" height="9.60" fill="#efdcd2" />
<rect x="44.70" y="658.00" width="38.60" height="9.60" fill="#eed3c1" />
<rect x="36.50" y="667.60" width="46.80" height="7.00" fill="#f28a4e" />
<rect x="36.50" y="667.60" width="8.20" height="7.00" fill="#f4a67e" />
<rect x="36.50" y="674.60" width="46.80" height="9.60" fill="#f07a3a" />
<rect x="36.50" y="674.60" width="8.20" height="9.60" fill="#f29060" />
<rect x="36.50" y="684.20" width="46.80" height="10.90" fill="#ef6b22" />
<rect x="36.50" y="684.20" width="8.20" height="10.90" fill="#f07232" />
<path d="M83.30,658.00 V649.20 H36.50 V695.10 H83.30" fill="none" stroke="#1e1e1e" stroke-width="1.1"/>
<path d="M83.30,658.00 V695.10" fill="none" stroke="#2a1f1a" stroke-width="1.1" stroke-dasharray="2.3,1.3"/>
<path d="M44.70,694.60 V658.00 H83.00" fill="none" stroke="#3a2a22" stroke-width="1.2" stroke-dasharray="2.3,1.3"/>
<rect x="117.50" y="656.50" width="38.90" height="38.90" fill="#cfe4ee" />
<rect x="124.90" y="656.50" width="31.50" height="9.70" fill="#ffffff" />
<rect x="148.90" y="666.20" width="7.50" height="19.00" fill="#d9eaf2" />
<rect x="148.90" y="685.20" width="7.50" height="10.20" fill="#ffffff" />
<path d="M117.50,666.20 V656.50 H156.40 V666.20 M156.40,666.20 V685.20 M117.50,685.20 V695.40 H156.40 V685.20" fill="none" stroke="#1e1e1e" stroke-width="1.1"/>
<path d="M117.50,666.20 H156.40 M117.50,666.20 V685.20 M117.50,685.20 H156.40" fill="none" stroke="#1a2a3a" stroke-width="1.15" stroke-dasharray="2.3,1.3"/>
<line x1="208.10" y1="437.19" x2="208.10" y2="495.30" stroke="#222" stroke-width="1.2" />
<line x1="205.50" y1="494.90" x2="207.90" y2="494.90" stroke="#222" stroke-width="1.0" />
<text x="203.70" y="497.20" font-size="6.6" text-anchor="end" fill="#333"  stroke="#333" stroke-width="0.2">0</text>
<line x1="205.50" y1="476.43" x2="207.90" y2="476.43" stroke="#222" stroke-width="1.0" />
<text x="203.70" y="478.73" font-size="6.6" text-anchor="end" fill="#333"  stroke="#333" stroke-width="0.2">40</text>
<line x1="205.50" y1="457.96" x2="207.90" y2="457.96" stroke="#222" stroke-width="1.0" />
<text x="203.70" y="460.26" font-size="6.6" text-anchor="end" fill="#333"  stroke="#333" stroke-width="0.2">80</text>
<line x1="205.50" y1="439.50" x2="207.90" y2="439.50" stroke="#222" stroke-width="1.0" />
<text x="203.70" y="441.80" font-size="6.6" text-anchor="end" fill="#333"  stroke="#333" stroke-width="0.2">120</text>
<line x1="207.50" y1="495.20" x2="257.90" y2="495.20" stroke="#222" stroke-width="1.3" />
<line x1="207.90" y1="494.90" x2="207.90" y2="497.10" stroke="#222" stroke-width="0.8" />
<text x="207.90" y="505.80" font-size="6.3" text-anchor="middle" fill="#333"  stroke="#333" stroke-width="0.2">0</text>
<line x1="219.60" y1="494.90" x2="219.60" y2="497.10" stroke="#222" stroke-width="0.8" />
<text x="219.60" y="505.80" font-size="6.3" text-anchor="middle" fill="#333"  stroke="#333" stroke-width="0.2">1</text>
<line x1="231.30" y1="494.90" x2="231.30" y2="497.10" stroke="#222" stroke-width="0.8" />
<text x="231.30" y="505.80" font-size="6.3" text-anchor="middle" fill="#333"  stroke="#333" stroke-width="0.2">2</text>
<line x1="243.00" y1="494.90" x2="243.00" y2="497.10" stroke="#222" stroke-width="0.8" />
<text x="243.00" y="505.80" font-size="6.3" text-anchor="middle" fill="#333"  stroke="#333" stroke-width="0.2">3</text>
<line x1="254.70" y1="494.90" x2="254.70" y2="497.10" stroke="#222" stroke-width="0.8" />
<text x="254.70" y="505.80" font-size="6.3" text-anchor="middle" fill="#333"  stroke="#333" stroke-width="0.2">4</text>
<line x1="209.90" y1="471.81" x2="257.40" y2="471.81" stroke="#222" stroke-width="1.2" stroke-dasharray="2.3,1.6"/>
<text x="202.00" y="517.70" font-size="8.4" fill="#333" stroke="#333" stroke-width="0.15" textLength="62" lengthAdjust="spacingAndGlyphs">Venetoclax (log nM)</text>
<text transform="translate(186.30,466.27) rotate(-90)" font-size="9" text-anchor="middle" fill="#333" stroke="#333" stroke-width="0.15" textLength="32.5" lengthAdjust="spacingAndGlyphs">% Viability</text>
<path d="M207.90,448.73 L208.98,448.73 L210.06,448.73 L211.15,448.73 L212.23,448.73 L213.31,448.73 L214.39,448.73 L215.48,448.73 L216.56,448.73 L217.64,448.73 L218.72,448.73 L219.80,448.73 L220.89,448.73 L221.97,448.73 L223.05,448.73 L224.13,448.73 L225.22,448.73 L226.30,448.73 L227.38,448.73 L228.46,448.73 L229.55,448.73 L230.63,448.73 L231.71,448.73 L232.79,448.73 L233.87,448.73 L234.96,448.73 L236.04,448.73 L237.12,448.73 L238.20,448.73 L239.29,448.73 L240.37,448.73 L241.45,448.73 L242.53,448.73 L243.61,448.75 L244.70,448.92 L245.78,449.24 L246.86,449.72 L247.94,450.34 L249.03,451.13 L250.11,452.07 L251.19,453.16" fill="none" stroke="#111" stroke-width="1.1"/>
<path d="M243.00,448.73 L243.20,448.76 L243.41,448.83 L243.61,448.91 L243.82,449.02 L244.02,449.14 L244.23,449.28 L244.43,449.44 L244.64,449.61 L244.84,449.79 L245.05,449.99 L245.25,450.19 L245.46,450.41 L245.66,450.64 L245.87,450.88 L246.07,451.13 L246.28,451.39 L246.48,451.67 L246.69,451.95 L246.89,452.24 L247.09,452.54 L247.30,452.85 L247.50,453.16 L247.71,453.49 L247.91,453.83 L248.12,454.17 L248.32,454.52 L248.53,454.88 L248.73,455.25 L248.94,455.63 L249.14,456.01 L249.35,456.41 L249.55,456.81 L249.76,457.21 L249.96,457.63 L250.17,458.05 L250.37,458.48 L250.58,458.92 L250.78,459.36 L250.99,459.81 L251.19,460.27" fill="none" stroke="#b41a3c" stroke-width="1.1"/>
<circle cx="207.90" cy="449.19" r="1.2" fill="#111"/>
<line x1="237.15" y1="451.04" x2="237.15" y2="453.81" stroke="#111" stroke-width="0.7" />
<line x1="236.15" y1="451.04" x2="238.15" y2="451.04" stroke="#111" stroke-width="0.6" />
<line x1="236.15" y1="453.81" x2="238.15" y2="453.81" stroke="#111" stroke-width="0.6" />
<circle cx="237.15" cy="452.42" r="1.2" fill="#111"/>
<line x1="237.15" y1="454.27" x2="237.15" y2="456.12" stroke="#b41a3c" stroke-width="0.7" />
<line x1="236.15" y1="454.27" x2="238.15" y2="454.27" stroke="#b41a3c" stroke-width="0.6" />
<line x1="236.15" y1="456.12" x2="238.15" y2="456.12" stroke="#b41a3c" stroke-width="0.6" />
<circle cx="237.15" cy="455.19" r="1.2" fill="#b41a3c"/>
<circle cx="244.17" cy="448.73" r="1.2" fill="#111"/>
<line x1="247.68" y1="449.65" x2="247.68" y2="450.58" stroke="#111" stroke-width="0.7" />
<line x1="246.68" y1="449.65" x2="248.68" y2="449.65" stroke="#111" stroke-width="0.6" />
<line x1="246.68" y1="450.58" x2="248.68" y2="450.58" stroke="#111" stroke-width="0.6" />
<circle cx="247.68" cy="450.12" r="1.2" fill="#111"/>
<line x1="247.68" y1="450.58" x2="247.68" y2="451.50" stroke="#b41a3c" stroke-width="0.7" />
<line x1="246.68" y1="450.58" x2="248.68" y2="450.58" stroke="#b41a3c" stroke-width="0.6" />
<line x1="246.68" y1="451.50" x2="248.68" y2="451.50" stroke="#b41a3c" stroke-width="0.6" />
<circle cx="247.68" cy="451.04" r="1.2" fill="#b41a3c"/>
<line x1="251.19" y1="451.96" x2="251.19" y2="453.81" stroke="#111" stroke-width="0.7" />
<line x1="250.19" y1="451.96" x2="252.19" y2="451.96" stroke="#111" stroke-width="0.6" />
<line x1="250.19" y1="453.81" x2="252.19" y2="453.81" stroke="#111" stroke-width="0.6" />
<circle cx="251.19" cy="452.89" r="1.2" fill="#111"/>
<line x1="251.19" y1="459.35" x2="251.19" y2="461.20" stroke="#b41a3c" stroke-width="0.7" />
<line x1="250.19" y1="459.35" x2="252.19" y2="459.35" stroke="#b41a3c" stroke-width="0.6" />
<line x1="250.19" y1="461.20" x2="252.19" y2="461.20" stroke="#b41a3c" stroke-width="0.6" />
<circle cx="251.19" cy="460.27" r="1.2" fill="#b41a3c"/>
<text x="267.20" y="461.00" font-size="6.4" fill="#333" textLength="21" lengthAdjust="spacingAndGlyphs">FTY720</text>
<line x1="267.20" y1="468.60" x2="274.80" y2="468.60" stroke="#111" stroke-width="1.1" />
<circle cx="271.10" cy="468.60" r="1.2" fill="#111"/>
<text x="278.20" y="470.80" font-size="6.4" text-anchor="start" fill="#333"  stroke="#333" stroke-width="0.2">0 µM</text>
<line x1="267.20" y1="477.90" x2="274.80" y2="477.90" stroke="#f0a4a0" stroke-width="1.1" />
<circle cx="271.10" cy="477.90" r="1.2" fill="#f0a4a0"/>
<text x="278.20" y="480.10" font-size="6.4" text-anchor="start" fill="#333"  stroke="#333" stroke-width="0.2">10 µM</text>
<line x1="267.20" y1="487.20" x2="274.80" y2="487.20" stroke="#b41a3c" stroke-width="1.1" />
<circle cx="271.10" cy="487.20" r="1.2" fill="#b41a3c"/>
<text x="278.20" y="489.40" font-size="6.4" text-anchor="start" fill="#333"  stroke="#333" stroke-width="0.2">12 µM</text>
<line x1="208.10" y1="530.70" x2="208.10" y2="589.10" stroke="#222" stroke-width="1.2" />
<line x1="205.50" y1="588.70" x2="207.90" y2="588.70" stroke="#222" stroke-width="1.0" />
<text x="203.70" y="591.00" font-size="6.6" text-anchor="end" fill="#333"  stroke="#333" stroke-width="0.2">0</text>
<line x1="205.50" y1="570.14" x2="207.90" y2="570.14" stroke="#222" stroke-width="1.0" />
<text x="203.70" y="572.44" font-size="6.6" text-anchor="end" fill="#333"  stroke="#333" stroke-width="0.2">40</text>
<line x1="205.50" y1="551.58" x2="207.90" y2="551.58" stroke="#222" stroke-width="1.0" />
<text x="203.70" y="553.88" font-size="6.6" text-anchor="end" fill="#333"  stroke="#333" stroke-width="0.2">80</text>
<line x1="205.50" y1="533.02" x2="207.90" y2="533.02" stroke="#222" stroke-width="1.0" />
<text x="203.70" y="535.32" font-size="6.6" text-anchor="end" fill="#333"  stroke="#333" stroke-width="0.2">120</text>
<line x1="207.50" y1="589.00" x2="257.90" y2="589.00" stroke="#222" stroke-width="1.3" />
<line x1="207.90" y1="588.70" x2="207.90" y2="590.90" stroke="#222" stroke-width="0.8" />
<text x="207.90" y="599.60" font-size="6.3" text-anchor="middle" fill="#333"  stroke="#333" stroke-width="0.2">0</text>
<line x1="219.60" y1="588.70" x2="219.60" y2="590.90" stroke="#222" stroke-width="0.8" />
<text x="219.60" y="599.60" font-size="6.3" text-anchor="middle" fill="#333"  stroke="#333" stroke-width="0.2">1</text>
<line x1="231.30" y1="588.70" x2="231.30" y2="590.90" stroke="#222" stroke-width="0.8" />
<text x="231.30" y="599.60" font-size="6.3" text-anchor="middle" fill="#333"  stroke="#333" stroke-width="0.2">2</text>
<line x1="243.00" y1="588.70" x2="243.00" y2="590.90" stroke="#222" stroke-width="0.8" />
<text x="243.00" y="599.60" font-size="6.3" text-anchor="middle" fill="#333"  stroke="#333" stroke-width="0.2">3</text>
<line x1="254.70" y1="588.70" x2="254.70" y2="590.90" stroke="#222" stroke-width="0.8" />
<text x="254.70" y="599.60" font-size="6.3" text-anchor="middle" fill="#333"  stroke="#333" stroke-width="0.2">4</text>
<line x1="209.90" y1="565.50" x2="257.40" y2="565.50" stroke="#222" stroke-width="1.2" stroke-dasharray="2.3,1.6"/>
<text x="202.00" y="611.50" font-size="8.4" fill="#333" stroke="#333" stroke-width="0.15" textLength="62" lengthAdjust="spacingAndGlyphs">Venetoclax (log nM)</text>
<text transform="translate(186.30,559.93) rotate(-90)" font-size="9" text-anchor="middle" fill="#333" stroke="#333" stroke-width="0.15" textLength="32.5" lengthAdjust="spacingAndGlyphs">% Viability</text>
<path d="M207.90,542.31 L208.98,542.31 L210.06,542.31 L211.15,542.32 L212.23,542.32 L213.31,542.33 L214.39,542.33 L215.48,542.34 L216.56,542.35 L217.64,542.36 L218.72,542.37 L219.80,542.38 L220.89,542.40 L221.97,542.43 L223.05,542.45 L224.13,542.49 L225.22,542.53 L226.30,542.58 L227.38,542.65 L228.46,542.72 L229.55,542.82 L230.63,542.93 L231.71,543.07 L232.79,543.24 L233.87,543.45 L234.96,543.70 L236.04,544.00 L237.12,544.36 L238.20,544.80 L239.29,545.32 L240.37,545.95 L241.45,546.69 L242.53,547.56 L243.61,548.58 L244.70,549.77 L245.78,551.12 L246.86,552.66 L247.94,554.38 L249.03,556.27 L250.11,558.32 L251.19,560.50" fill="none" stroke="#111" stroke-width="1.1"/>
<path d="M207.90,546.61 L208.98,547.00 L210.06,547.42 L211.15,547.87 L212.23,548.36 L213.31,548.88 L214.39,549.44 L215.48,550.04 L216.56,550.68 L217.64,551.35 L218.72,552.07 L219.80,552.83 L220.89,553.63 L221.97,554.47 L223.05,555.36 L224.13,556.27 L225.22,557.23 L226.30,558.21 L227.38,559.23 L228.46,560.27 L229.55,561.34 L230.63,562.42 L231.71,563.52 L232.79,564.63 L233.87,565.74 L234.96,566.85 L236.04,567.95 L237.12,569.05 L238.20,570.12 L239.29,571.18 L240.37,572.21 L241.45,573.22 L242.53,574.19 L243.61,575.13 L244.70,576.03 L245.78,576.89 L246.86,577.72 L247.94,578.50 L249.03,579.24 L250.11,579.94 L251.19,580.60" fill="none" stroke="#f0a4a0" stroke-width="1.1"/>
<path d="M207.90,576.87 L208.98,577.29 L210.06,577.76 L211.15,578.27 L212.23,578.83 L213.31,579.42 L214.39,580.04 L215.48,580.68 L216.56,581.32 L217.64,581.96 L218.72,582.58 L219.80,583.18 L220.89,583.74 L221.97,584.26 L223.05,584.74 L224.13,585.16 L225.22,585.54 L226.30,585.88 L227.38,586.17 L228.46,586.42 L229.55,586.64 L230.63,586.82 L231.71,586.98 L232.79,587.11 L233.87,587.22 L234.96,587.31 L236.04,587.39 L237.12,587.46 L238.20,587.51 L239.29,587.55 L240.37,587.59 L241.45,587.62 L242.53,587.65 L243.61,587.67 L244.70,587.69 L245.78,587.70 L246.86,587.71 L247.94,587.72 L249.03,587.73 L250.11,587.74 L251.19,587.75" fill="none" stroke="#b41a3c" stroke-width="1.1"/>
<circle cx="207.90" cy="542.30" r="1.2" fill="#111"/>
<line x1="237.15" y1="544.16" x2="237.15" y2="546.94" stroke="#111" stroke-width="0.7" />
<line x1="236.15" y1="544.16" x2="238.15" y2="544.16" stroke="#111" stroke-width="0.6" />
<line x1="236.15" y1="546.94" x2="238.15" y2="546.94" stroke="#111" stroke-width="0.6" />
<circle cx="237.15" cy="545.55" r="1.2" fill="#111"/>
<circle cx="244.17" cy="549.72" r="1.2" fill="#111"/>
<circle cx="247.68" cy="553.44" r="1.2" fill="#111"/>
<line x1="251.19" y1="559.00" x2="251.19" y2="561.79" stroke="#111" stroke-width="0.7" />
<line x1="250.19" y1="559.00" x2="252.19" y2="559.00" stroke="#111" stroke-width="0.6" />
<line x1="250.19" y1="561.79" x2="252.19" y2="561.79" stroke="#111" stroke-width="0.6" />
<circle cx="251.19" cy="560.40" r="1.2" fill="#111"/>
<line x1="237.15" y1="567.82" x2="237.15" y2="578.96" stroke="#f0a4a0" stroke-width="0.7" />
<line x1="236.15" y1="567.82" x2="238.15" y2="567.82" stroke="#f0a4a0" stroke-width="0.6" />
<line x1="236.15" y1="578.96" x2="238.15" y2="578.96" stroke="#f0a4a0" stroke-width="0.6" />
<circle cx="237.15" cy="573.39" r="1.2" fill="#f0a4a0"/>
<line x1="247.68" y1="572.46" x2="247.68" y2="577.10" stroke="#f0a4a0" stroke-width="0.7" />
<line x1="246.68" y1="572.46" x2="248.68" y2="572.46" stroke="#f0a4a0" stroke-width="0.6" />
<line x1="246.68" y1="577.10" x2="248.68" y2="577.10" stroke="#f0a4a0" stroke-width="0.6" />
<circle cx="247.68" cy="574.78" r="1.2" fill="#f0a4a0"/>
<circle cx="251.19" cy="579.88" r="1.2" fill="#f0a4a0"/>
<circle cx="237.15" cy="587.77" r="1.2" fill="#b41a3c"/>
<circle cx="244.17" cy="588.24" r="1.2" fill="#b41a3c"/>
<line x1="247.68" y1="586.84" x2="247.68" y2="587.77" stroke="#b41a3c" stroke-width="0.7" />
<line x1="246.68" y1="586.84" x2="248.68" y2="586.84" stroke="#b41a3c" stroke-width="0.6" />
<line x1="246.68" y1="587.77" x2="248.68" y2="587.77" stroke="#b41a3c" stroke-width="0.6" />
<circle cx="247.68" cy="587.31" r="1.2" fill="#b41a3c"/>
<line x1="251.19" y1="585.45" x2="251.19" y2="587.31" stroke="#b41a3c" stroke-width="0.7" />
<line x1="250.19" y1="585.45" x2="252.19" y2="585.45" stroke="#b41a3c" stroke-width="0.6" />
<line x1="250.19" y1="587.31" x2="252.19" y2="587.31" stroke="#b41a3c" stroke-width="0.6" />
<circle cx="251.19" cy="586.38" r="1.2" fill="#b41a3c"/>
<text x="267.20" y="549.80" font-size="6.4" fill="#333" textLength="21" lengthAdjust="spacingAndGlyphs">FTY720</text>
<line x1="267.20" y1="557.40" x2="274.80" y2="557.40" stroke="#111" stroke-width="1.1" />
<circle cx="271.10" cy="557.40" r="1.2" fill="#111"/>
<text x="278.20" y="559.60" font-size="6.4" text-anchor="start" fill="#333"  stroke="#333" stroke-width="0.2">0 µM</text>
<line x1="267.20" y1="566.70" x2="274.80" y2="566.70" stroke="#f0a4a0" stroke-width="1.1" />
<circle cx="271.10" cy="566.70" r="1.2" fill="#f0a4a0"/>
<text x="278.20" y="568.90" font-size="6.4" text-anchor="start" fill="#333"  stroke="#333" stroke-width="0.2">10 µM</text>
<line x1="267.20" y1="576.00" x2="274.80" y2="576.00" stroke="#b41a3c" stroke-width="1.1" />
<circle cx="271.10" cy="576.00" r="1.2" fill="#b41a3c"/>
<text x="278.20" y="578.20" font-size="6.4" text-anchor="start" fill="#333"  stroke="#333" stroke-width="0.2">12 µM</text>
<line x1="208.10" y1="623.15" x2="208.10" y2="680.80" stroke="#222" stroke-width="1.2" />
<line x1="205.50" y1="680.40" x2="207.90" y2="680.40" stroke="#222" stroke-width="1.0" />
<text x="203.70" y="682.70" font-size="6.6" text-anchor="end" fill="#333"  stroke="#333" stroke-width="0.2">0</text>
<line x1="205.50" y1="662.08" x2="207.90" y2="662.08" stroke="#222" stroke-width="1.0" />
<text x="203.70" y="664.38" font-size="6.6" text-anchor="end" fill="#333"  stroke="#333" stroke-width="0.2">40</text>
<line x1="205.50" y1="643.76" x2="207.90" y2="643.76" stroke="#222" stroke-width="1.0" />
<text x="203.70" y="646.06" font-size="6.6" text-anchor="end" fill="#333"  stroke="#333" stroke-width="0.2">80</text>
<line x1="205.50" y1="625.44" x2="207.90" y2="625.44" stroke="#222" stroke-width="1.0" />
<text x="203.70" y="627.74" font-size="6.6" text-anchor="end" fill="#333"  stroke="#333" stroke-width="0.2">120</text>
<line x1="207.50" y1="680.70" x2="257.90" y2="680.70" stroke="#222" stroke-width="1.3" />
<line x1="207.90" y1="680.40" x2="207.90" y2="682.60" stroke="#222" stroke-width="0.8" />
<text x="207.90" y="691.30" font-size="6.3" text-anchor="middle" fill="#333"  stroke="#333" stroke-width="0.2">0</text>
<line x1="219.60" y1="680.40" x2="219.60" y2="682.60" stroke="#222" stroke-width="0.8" />
<text x="219.60" y="691.30" font-size="6.3" text-anchor="middle" fill="#333"  stroke="#333" stroke-width="0.2">1</text>
<line x1="231.30" y1="680.40" x2="231.30" y2="682.60" stroke="#222" stroke-width="0.8" />
<text x="231.30" y="691.30" font-size="6.3" text-anchor="middle" fill="#333"  stroke="#333" stroke-width="0.2">2</text>
<line x1="243.00" y1="680.40" x2="243.00" y2="682.60" stroke="#222" stroke-width="0.8" />
<text x="243.00" y="691.30" font-size="6.3" text-anchor="middle" fill="#333"  stroke="#333" stroke-width="0.2">3</text>
<line x1="254.70" y1="680.40" x2="254.70" y2="682.60" stroke="#222" stroke-width="0.8" />
<text x="254.70" y="691.30" font-size="6.3" text-anchor="middle" fill="#333"  stroke="#333" stroke-width="0.2">4</text>
<line x1="209.90" y1="657.50" x2="257.40" y2="657.50" stroke="#222" stroke-width="1.2" stroke-dasharray="2.3,1.6"/>
<text x="202.00" y="703.20" font-size="8.4" fill="#333" stroke="#333" stroke-width="0.15" textLength="62" lengthAdjust="spacingAndGlyphs">Venetoclax (log nM)</text>
<text transform="translate(186.30,652.00) rotate(-90)" font-size="9" text-anchor="middle" fill="#333" stroke="#333" stroke-width="0.15" textLength="32.5" lengthAdjust="spacingAndGlyphs">% Viability</text>
<path d="M207.90,634.60 L208.98,634.60 L210.06,634.60 L211.15,634.60 L212.23,634.60 L213.31,634.60 L214.39,634.60 L215.48,634.60 L216.56,634.60 L217.64,634.60 L218.72,634.60 L219.80,634.60 L220.89,634.61 L221.97,634.61 L223.05,634.61 L224.13,634.61 L225.22,634.62 L226.30,634.62 L227.38,634.63 L228.46,634.64 L229.55,634.65 L230.63,634.67 L231.71,634.69 L232.79,634.72 L233.87,634.76 L234.96,634.82 L236.04,634.88 L237.12,634.98 L238.20,635.09 L239.29,635.25 L240.37,635.45 L241.45,635.72 L242.53,636.06 L243.61,636.51 L244.70,637.08 L245.78,637.82 L246.86,638.75 L247.94,639.93 L249.03,641.37 L250.11,643.13 L251.19,645.22" fill="none" stroke="#111" stroke-width="1.1"/>
<path d="M207.90,649.71 L208.98,650.27 L210.06,650.83 L211.15,651.38 L212.23,651.92 L213.31,652.47 L214.39,653.01 L215.48,653.54 L216.56,654.07 L217.64,654.60 L218.72,655.13 L219.80,655.65 L220.89,656.17 L221.97,656.69 L223.05,657.20 L224.13,657.71 L225.22,658.21 L226.30,658.71 L227.38,659.21 L228.46,659.70 L229.55,660.19 L230.63,660.68 L231.71,661.16 L232.79,661.64 L233.87,662.12 L234.96,662.59 L236.04,663.06 L237.12,663.53 L238.20,663.99 L239.29,664.45 L240.37,664.90 L241.45,665.36 L242.53,665.80 L243.61,666.25 L244.70,666.69 L245.78,667.13 L246.86,667.56 L247.94,667.99 L249.03,668.42 L250.11,668.84 L251.19,669.26" fill="none" stroke="#f0a4a0" stroke-width="1.1"/>
<path d="M207.90,663.00 L208.98,663.25 L210.06,663.71 L211.15,664.28 L212.23,664.93 L213.31,665.64 L214.39,666.38 L215.48,667.13 L216.56,667.89 L217.64,668.65 L218.72,669.40 L219.80,670.12 L220.89,670.82 L221.97,671.49 L223.05,672.13 L224.13,672.74 L225.22,673.31 L226.30,673.84 L227.38,674.34 L228.46,674.81 L229.55,675.23 L230.63,675.63 L231.71,675.99 L232.79,676.32 L233.87,676.62 L234.96,676.89 L236.04,677.13 L237.12,677.35 L238.20,677.55 L239.29,677.73 L240.37,677.89 L241.45,678.03 L242.53,678.16 L243.61,678.27 L244.70,678.37 L245.78,678.46 L246.86,678.53 L247.94,678.60 L249.03,678.66 L250.11,678.71 L251.19,678.75" fill="none" stroke="#b41a3c" stroke-width="1.1"/>
<circle cx="207.90" cy="634.60" r="1.2" fill="#111"/>
<line x1="237.15" y1="632.77" x2="237.15" y2="634.60" stroke="#111" stroke-width="0.7" />
<line x1="236.15" y1="632.77" x2="238.15" y2="632.77" stroke="#111" stroke-width="0.6" />
<line x1="236.15" y1="634.60" x2="238.15" y2="634.60" stroke="#111" stroke-width="0.6" />
<circle cx="237.15" cy="633.68" r="1.2" fill="#111"/>
<line x1="240.66" y1="633.68" x2="240.66" y2="634.60" stroke="#111" stroke-width="0.7" />
<line x1="239.66" y1="633.68" x2="241.66" y2="633.68" stroke="#111" stroke-width="0.6" />
<line x1="239.66" y1="634.60" x2="241.66" y2="634.60" stroke="#111" stroke-width="0.6" />
<circle cx="240.66" cy="634.14" r="1.2" fill="#111"/>
<line x1="244.17" y1="635.06" x2="244.17" y2="636.89" stroke="#111" stroke-width="0.7" />
<line x1="243.17" y1="635.06" x2="245.17" y2="635.06" stroke="#111" stroke-width="0.6" />
<line x1="243.17" y1="636.89" x2="245.17" y2="636.89" stroke="#111" stroke-width="0.6" />
<circle cx="244.17" cy="635.97" r="1.2" fill="#111"/>
<line x1="247.68" y1="641.01" x2="247.68" y2="643.76" stroke="#111" stroke-width="0.7" />
<line x1="246.68" y1="641.01" x2="248.68" y2="641.01" stroke="#111" stroke-width="0.6" />
<line x1="246.68" y1="643.76" x2="248.68" y2="643.76" stroke="#111" stroke-width="0.6" />
<circle cx="247.68" cy="642.39" r="1.2" fill="#111"/>
<line x1="251.19" y1="644.68" x2="251.19" y2="647.42" stroke="#111" stroke-width="0.7" />
<line x1="250.19" y1="644.68" x2="252.19" y2="644.68" stroke="#111" stroke-width="0.6" />
<line x1="250.19" y1="647.42" x2="252.19" y2="647.42" stroke="#111" stroke-width="0.6" />
<circle cx="251.19" cy="646.05" r="1.2" fill="#111"/>
<circle cx="244.17" cy="665.29" r="1.2" fill="#f0a4a0"/>
<line x1="247.68" y1="664.83" x2="247.68" y2="668.49" stroke="#f0a4a0" stroke-width="0.7" />
<line x1="246.68" y1="664.83" x2="248.68" y2="664.83" stroke="#f0a4a0" stroke-width="0.6" />
<line x1="246.68" y1="668.49" x2="248.68" y2="668.49" stroke="#f0a4a0" stroke-width="0.6" />
<circle cx="247.68" cy="666.66" r="1.2" fill="#f0a4a0"/>
<line x1="251.19" y1="668.49" x2="251.19" y2="669.41" stroke="#f0a4a0" stroke-width="0.7" />
<line x1="250.19" y1="668.49" x2="252.19" y2="668.49" stroke="#f0a4a0" stroke-width="0.6" />
<line x1="250.19" y1="669.41" x2="252.19" y2="669.41" stroke="#f0a4a0" stroke-width="0.6" />
<circle cx="251.19" cy="668.95" r="1.2" fill="#f0a4a0"/>
<line x1="237.15" y1="677.65" x2="237.15" y2="678.57" stroke="#b41a3c" stroke-width="0.7" />
<line x1="236.15" y1="677.65" x2="238.15" y2="677.65" stroke="#b41a3c" stroke-width="0.6" />
<line x1="236.15" y1="678.57" x2="238.15" y2="678.57" stroke="#b41a3c" stroke-width="0.6" />
<circle cx="237.15" cy="678.11" r="1.2" fill="#b41a3c"/>
<line x1="244.17" y1="675.82" x2="244.17" y2="677.65" stroke="#b41a3c" stroke-width="0.7" />
<line x1="243.17" y1="675.82" x2="245.17" y2="675.82" stroke="#b41a3c" stroke-width="0.6" />
<line x1="243.17" y1="677.65" x2="245.17" y2="677.65" stroke="#b41a3c" stroke-width="0.6" />
<circle cx="244.17" cy="676.74" r="1.2" fill="#b41a3c"/>
<circle cx="247.68" cy="677.65" r="1.2" fill="#b41a3c"/>
<circle cx="251.19" cy="678.11" r="1.2" fill="#b41a3c"/>
<text x="267.20" y="642.00" font-size="6.4" fill="#333" textLength="21" lengthAdjust="spacingAndGlyphs">FTY720</text>
<line x1="267.20" y1="649.60" x2="274.80" y2="649.60" stroke="#111" stroke-width="1.1" />
<circle cx="271.10" cy="649.60" r="1.2" fill="#111"/>
<text x="278.20" y="651.80" font-size="6.4" text-anchor="start" fill="#333"  stroke="#333" stroke-width="0.2">0 µM</text>
<line x1="267.20" y1="658.90" x2="274.80" y2="658.90" stroke="#f0a4a0" stroke-width="1.1" />
<circle cx="271.10" cy="658.90" r="1.2" fill="#f0a4a0"/>
<text x="278.20" y="661.10" font-size="6.4" text-anchor="start" fill="#333"  stroke="#333" stroke-width="0.2">7.5 µM</text>
<line x1="267.20" y1="668.20" x2="274.80" y2="668.20" stroke="#b41a3c" stroke-width="1.1" />
<circle cx="271.10" cy="668.20" r="1.2" fill="#b41a3c"/>
<text x="278.20" y="670.40" font-size="6.4" text-anchor="start" fill="#333"  stroke="#333" stroke-width="0.2">10 µM</text>
<text x="349.20" y="396.60" font-size="11.8" text-anchor="start" fill="#111" font-weight="bold" stroke="#111" stroke-width="0.45">G</text>
<text x="420.50" y="400.10" font-size="6.6" text-anchor="end" fill="#2a2a2a"  stroke="#2a2a2a" stroke-width="0.2">FTY720</text>
<text x="420.50" y="410.90" font-size="6.6" text-anchor="end" fill="#2a2a2a"  stroke="#2a2a2a" stroke-width="0.2">Venetoclax</text>
<text x="431.40" y="399.60" font-size="5.4" text-anchor="middle" fill="#555" stroke="none">−</text>
<text x="431.40" y="410.10" font-size="5.4" text-anchor="middle" fill="#555" stroke="none">−</text>
<text x="448.70" y="399.60" font-size="5.4" text-anchor="middle" fill="#555" stroke="none">+</text>
<text x="448.70" y="410.10" font-size="5.4" text-anchor="middle" fill="#555" stroke="none">−</text>
<text x="465.20" y="399.60" font-size="5.4" text-anchor="middle" fill="#555" stroke="none">−</text>
<text x="465.20" y="410.10" font-size="5.4" text-anchor="middle" fill="#555" stroke="none">+</text>
<text x="482.10" y="399.60" font-size="5.4" text-anchor="middle" fill="#8a90c0" stroke="none">+</text>
<text x="482.10" y="410.10" font-size="5.4" text-anchor="middle" fill="#8a90c0" stroke="none">+</text>
<text x="366.80" y="422.50" font-size="6.6" text-anchor="start" fill="#2a2a2a"  stroke="#2a2a2a" stroke-width="0.2">AML-6</text>
<text x="420.50" y="421.90" font-size="6.6" text-anchor="end" fill="#2a2a2a"  stroke="#2a2a2a" stroke-width="0.2">MCL1</text>
<rect x="423.5" y="414.80" width="66.4" height="9.40" fill="#d9d9d9"/>
<g filter="url(#bb)">
<rect x="425.15" y="420.00" width="12.50" height="1.80" fill="#444" opacity="0.8" rx="0.90"/>
<rect x="442.45" y="419.70" width="12.50" height="1.80" fill="#1e1e1e" opacity="0.9" rx="0.90"/>
<rect x="458.95" y="419.80" width="12.50" height="1.80" fill="#555" opacity="0.7" rx="0.90"/>
<rect x="475.85" y="419.10" width="12.50" height="1.80" fill="#444" opacity="0.8" rx="0.90"/>
</g>
<rect x="423.5" y="414.80" width="66.4" height="9.40" fill="none" stroke="#1a1a1a" stroke-width="1.25"/>
<text x="420.50" y="438.30" font-size="6.6" text-anchor="end" fill="#2a2a2a"  stroke="#2a2a2a" stroke-width="0.2">p-BCL2</text>
<rect x="423.5" y="431.30" width="66.4" height="9.20" fill="#c2c2c2"/>
<g filter="url(#bb)">
<rect x="423.80" y="433.30" width="15.20" height="1.80" fill="#666" opacity="0.6" rx="0.90"/>
<rect x="441.10" y="433.30" width="15.20" height="1.80" fill="#333" opacity="0.75" rx="0.90"/>
<rect x="457.60" y="433.30" width="15.20" height="1.80" fill="#222" opacity="0.85" rx="0.90"/>
<rect x="474.50" y="433.30" width="15.20" height="1.80" fill="#222" opacity="0.85" rx="0.90"/>
<rect x="423.80" y="436.70" width="15.20" height="2.00" fill="#555" opacity="0.6" rx="1.00"/>
<rect x="441.10" y="436.70" width="15.20" height="2.00" fill="#2a2a2a" opacity="0.8" rx="1.00"/>
<rect x="457.60" y="436.70" width="15.20" height="2.00" fill="#1a1a1a" opacity="0.9" rx="1.00"/>
<rect x="474.50" y="436.70" width="15.20" height="2.00" fill="#1a1a1a" opacity="0.9" rx="1.00"/>
</g>
<rect x="423.5" y="431.30" width="66.4" height="9.20" fill="none" stroke="#1a1a1a" stroke-width="1.25"/>
<text x="420.50" y="453.85" font-size="6.6" text-anchor="end" fill="#2a2a2a"  stroke="#2a2a2a" stroke-width="0.2">BCL2</text>
<rect x="423.5" y="446.90" width="66.4" height="9.10" fill="#cdcdcd"/>
<g filter="url(#bb)">
<rect x="423.80" y="450.90" width="15.20" height="2.50" fill="#333" opacity="0.75" rx="1.20"/>
<rect x="441.10" y="450.90" width="15.20" height="2.50" fill="#333" opacity="0.75" rx="1.20"/>
<rect x="457.60" y="450.90" width="15.20" height="2.50" fill="#2a2a2a" opacity="0.8" rx="1.20"/>
<rect x="474.50" y="450.90" width="15.20" height="2.50" fill="#333" opacity="0.8" rx="1.20"/>
</g>
<rect x="423.5" y="446.90" width="66.4" height="9.10" fill="none" stroke="#1a1a1a" stroke-width="1.25"/>
<text x="420.50" y="469.40" font-size="6.6" text-anchor="end" fill="#2a2a2a"  stroke="#2a2a2a" stroke-width="0.2">p-ERK</text>
<rect x="423.5" y="462.40" width="66.4" height="9.20" fill="#cbcbcb"/>
<g filter="url(#bb)">
<rect x="423.40" y="464.80" width="16.00" height="1.40" fill="#888" opacity="0.5" rx="0.70"/>
<rect x="440.70" y="464.80" width="16.00" height="1.40" fill="#888" opacity="0.5" rx="0.70"/>
<rect x="457.20" y="464.80" width="16.00" height="1.40" fill="#888" opacity="0.5" rx="0.70"/>
<rect x="474.10" y="464.80" width="16.00" height="1.40" fill="#888" opacity="0.5" rx="0.70"/>
<rect x="423.40" y="467.80" width="16.00" height="1.40" fill="#888" opacity="0.5" rx="0.70"/>
<rect x="440.70" y="467.80" width="16.00" height="1.40" fill="#888" opacity="0.5" rx="0.70"/>
<rect x="457.20" y="467.80" width="16.00" height="1.40" fill="#888" opacity="0.5" rx="0.70"/>
<rect x="474.10" y="467.80" width="16.00" height="1.40" fill="#888" opacity="0.5" rx="0.70"/>
</g>
<rect x="423.5" y="462.40" width="66.4" height="9.20" fill="none" stroke="#1a1a1a" stroke-width="1.25"/>
<text x="420.50" y="485.55" font-size="6.6" text-anchor="end" fill="#2a2a2a"  stroke="#2a2a2a" stroke-width="0.2">ERK</text>
<rect x="423.5" y="478.60" width="66.4" height="9.10" fill="#d2d2d2"/>
<g filter="url(#bb)">
<rect x="423.65" y="481.20" width="15.50" height="1.30" fill="#888" opacity="0.5" rx="0.65"/>
<rect x="440.95" y="481.20" width="15.50" height="1.30" fill="#888" opacity="0.5" rx="0.65"/>
<rect x="457.45" y="481.20" width="15.50" height="1.30" fill="#888" opacity="0.5" rx="0.65"/>
<rect x="474.35" y="481.20" width="15.50" height="1.30" fill="#888" opacity="0.5" rx="0.65"/>
<rect x="423.65" y="483.70" width="15.50" height="2.30" fill="#1a1a1a" opacity="0.9" rx="1.15"/>
<rect x="440.95" y="483.70" width="15.50" height="2.30" fill="#1a1a1a" opacity="0.9" rx="1.15"/>
<rect x="457.45" y="483.70" width="15.50" height="2.30" fill="#1a1a1a" opacity="0.9" rx="1.15"/>
<rect x="474.35" y="483.70" width="15.50" height="2.30" fill="#1a1a1a" opacity="0.9" rx="1.15"/>
</g>
<rect x="423.5" y="478.60" width="66.4" height="9.10" fill="none" stroke="#1a1a1a" stroke-width="1.25"/>
<text x="420.50" y="501.10" font-size="6.6" text-anchor="end" fill="#2a2a2a"  stroke="#2a2a2a" stroke-width="0.2">β-actin</text>
<rect x="423.5" y="494.10" width="66.4" height="9.20" fill="#d8d8d8"/>
<g filter="url(#bb)">
<rect x="423.15" y="498.10" width="16.50" height="2.10" fill="#444" opacity="0.75" rx="1.05"/>
<rect x="440.45" y="498.10" width="16.50" height="2.10" fill="#444" opacity="0.75" rx="1.05"/>
<rect x="456.95" y="498.10" width="16.50" height="2.10" fill="#444" opacity="0.75" rx="1.05"/>
<rect x="473.85" y="498.10" width="16.50" height="2.10" fill="#444" opacity="0.75" rx="1.05"/>
</g>
<rect x="423.5" y="494.10" width="66.4" height="9.20" fill="none" stroke="#1a1a1a" stroke-width="1.25"/>
<text x="431.40" y="430.00" font-size="6.0" text-anchor="middle" fill="#4a4a4a" stroke="none">1.0</text>
<text x="448.70" y="430.00" font-size="6.0" text-anchor="middle" fill="#4a4a4a" stroke="none">1.5</text>
<text x="465.20" y="430.00" font-size="6.0" text-anchor="middle" fill="#4a4a4a" stroke="none">0.7</text>
<text x="482.10" y="430.00" font-size="6.0" text-anchor="middle" fill="#e0904a" stroke="none">1.1</text>
<text x="431.40" y="446.00" font-size="6.0" text-anchor="middle" fill="#4a4a4a" stroke="none">1.0</text>
<text x="448.70" y="446.00" font-size="6.0" text-anchor="middle" fill="#4a4a4a" stroke="none">1.3</text>
<text x="465.20" y="446.00" font-size="6.0" text-anchor="middle" fill="#4a4a4a" stroke="none">1.1</text>
<text x="482.10" y="446.00" font-size="6.0" text-anchor="middle" fill="#e0904a" stroke="none">1.1</text>
<text x="431.40" y="477.30" font-size="6.0" text-anchor="middle" fill="#4a4a4a" stroke="none">1.0</text>
<text x="448.70" y="477.30" font-size="6.0" text-anchor="middle" fill="#4a4a4a" stroke="none">1.4</text>
<text x="465.20" y="477.30" font-size="6.0" text-anchor="middle" fill="#4a4a4a" stroke="none">1.1</text>
<text x="482.10" y="477.30" font-size="6.0" text-anchor="middle" fill="#e0904a" stroke="none">1.0</text>
<text x="366.80" y="521.60" font-size="6.6" text-anchor="start" fill="#2a2a2a"  stroke="#2a2a2a" stroke-width="0.2">AML-7</text>
<text x="420.50" y="521.65" font-size="6.6" text-anchor="end" fill="#2a2a2a"  stroke="#2a2a2a" stroke-width="0.2">MCL1</text>
<rect x="423.5" y="514.50" width="66.4" height="9.50" fill="#bcbcbc"/>
<g filter="url(#bb)">
<rect x="425.15" y="517.50" width="12.50" height="2.20" fill="#1a1a1a" opacity="0.85" rx="1.10"/>
<rect x="442.45" y="517.50" width="12.50" height="2.20" fill="#777" opacity="0.35" rx="1.10"/>
<rect x="458.95" y="517.50" width="12.50" height="2.20" fill="#1a1a1a" opacity="0.85" rx="1.10"/>
</g>
<rect x="423.5" y="514.50" width="66.4" height="9.50" fill="none" stroke="#1a1a1a" stroke-width="1.25"/>
<text x="420.50" y="537.75" font-size="6.6" text-anchor="end" fill="#2a2a2a"  stroke="#2a2a2a" stroke-width="0.2">p-BCL2</text>
<rect x="423.5" y="530.80" width="66.4" height="9.10" fill="#c9c9c9"/>
<g filter="url(#bb)">
<rect x="423.80" y="533.00" width="15.20" height="1.80" fill="#333" opacity="0.8" rx="0.90"/>
<rect x="441.10" y="533.00" width="15.20" height="1.80" fill="#111" opacity="0.9" rx="0.90"/>
<rect x="457.60" y="533.00" width="15.20" height="1.80" fill="#2a2a2a" opacity="0.85" rx="0.90"/>
<rect x="474.50" y="533.00" width="15.20" height="1.80" fill="#888" opacity="0.4" rx="0.90"/>
<rect x="423.80" y="536.10" width="15.20" height="1.90" fill="#333" opacity="0.8" rx="0.95"/>
<rect x="441.10" y="536.10" width="15.20" height="1.90" fill="#1a1a1a" opacity="0.9" rx="0.95"/>
<rect x="457.60" y="536.10" width="15.20" height="1.90" fill="#2a2a2a" opacity="0.85" rx="0.95"/>
<rect x="474.50" y="536.10" width="15.20" height="1.90" fill="#888" opacity="0.45" rx="0.95"/>
</g>
<rect x="423.5" y="530.80" width="66.4" height="9.10" fill="none" stroke="#1a1a1a" stroke-width="1.25"/>
<text x="420.50" y="553.45" font-size="6.6" text-anchor="end" fill="#2a2a2a"  stroke="#2a2a2a" stroke-width="0.2">BCL2</text>
<rect x="423.5" y="546.30" width="66.4" height="9.50" fill="#cfcfcf"/>
<g filter="url(#bb)">
<rect x="423.80" y="551.30" width="15.20" height="2.30" fill="#333" opacity="0.75" rx="1.15"/>
<rect x="441.10" y="550.80" width="15.20" height="2.30" fill="#2a2a2a" opacity="0.8" rx="1.15"/>
<rect x="457.60" y="550.50" width="15.20" height="2.30" fill="#111" opacity="0.92" rx="1.15"/>
<rect x="474.50" y="549.90" width="15.20" height="2.30" fill="#666" opacity="0.6" rx="1.15"/>
</g>
<rect x="423.5" y="546.30" width="66.4" height="9.50" fill="none" stroke="#1a1a1a" stroke-width="1.25"/>
<text x="420.50" y="568.75" font-size="6.6" text-anchor="end" fill="#2a2a2a"  stroke="#2a2a2a" stroke-width="0.2">p-ERK</text>
<rect x="423.5" y="562.10" width="66.4" height="8.50" fill="#c7c7c7"/>
<g filter="url(#bb)">
<rect x="423.80" y="565.50" width="15.20" height="1.90" fill="#555" opacity="0.6" rx="0.95"/>
<rect x="441.10" y="565.50" width="15.20" height="1.90" fill="#555" opacity="0.6" rx="0.95"/>
<rect x="457.60" y="565.50" width="15.20" height="1.90" fill="#444" opacity="0.65" rx="0.95"/>
<rect x="474.50" y="565.50" width="15.20" height="1.90" fill="#888" opacity="0.4" rx="0.95"/>
</g>
<rect x="423.5" y="562.10" width="66.4" height="8.50" fill="none" stroke="#1a1a1a" stroke-width="1.25"/>
<text x="420.50" y="585.15" font-size="6.6" text-anchor="end" fill="#2a2a2a"  stroke="#2a2a2a" stroke-width="0.2">ERK</text>
<rect x="423.5" y="578.00" width="66.4" height="9.50" fill="#c9c9c9"/>
<g filter="url(#bb)">
<rect x="423.80" y="581.20" width="15.20" height="3.60" fill="#111" opacity="0.92" rx="1.20"/>
<rect x="441.10" y="581.20" width="15.20" height="3.60" fill="#111" opacity="0.92" rx="1.20"/>
<rect x="457.60" y="581.00" width="15.20" height="3.60" fill="#0a0a0a" opacity="0.95" rx="1.20"/>
<rect x="474.50" y="581.60" width="15.20" height="3.60" fill="#222" opacity="0.8" rx="1.20"/>
</g>
<rect x="423.5" y="578.00" width="66.4" height="9.50" fill="none" stroke="#1a1a1a" stroke-width="1.25"/>
<text x="420.50" y="600.70" font-size="6.6" text-anchor="end" fill="#2a2a2a"  stroke="#2a2a2a" stroke-width="0.2">β-actin</text>
<rect x="423.5" y="593.90" width="66.4" height="8.80" fill="#d9d9d9"/>
<g filter="url(#bb)">
<rect x="423.15" y="597.50" width="16.50" height="2.50" fill="#111" opacity="0.9" rx="1.20"/>
<rect x="440.45" y="597.50" width="16.50" height="2.50" fill="#111" opacity="0.9" rx="1.20"/>
<rect x="456.95" y="597.50" width="16.50" height="2.50" fill="#111" opacity="0.9" rx="1.20"/>
<rect x="473.85" y="597.50" width="16.50" height="2.50" fill="#111" opacity="0.9" rx="1.20"/>
</g>
<rect x="423.5" y="593.90" width="66.4" height="8.80" fill="none" stroke="#1a1a1a" stroke-width="1.25"/>
<text x="431.40" y="529.40" font-size="6.0" text-anchor="middle" fill="#4a4a4a" stroke="none">1.0</text>
<text x="448.70" y="529.40" font-size="6.0" text-anchor="middle" fill="#4a4a4a" stroke="none">0.5</text>
<text x="465.20" y="529.40" font-size="6.0" text-anchor="middle" fill="#4a4a4a" stroke="none">1.5</text>
<text x="482.10" y="529.40" font-size="6.0" text-anchor="middle" fill="#4a9ad6" stroke="none">0.0</text>
<text x="431.40" y="545.30" font-size="6.0" text-anchor="middle" fill="#4a4a4a" stroke="none">1.0</text>
<text x="448.70" y="545.30" font-size="6.0" text-anchor="middle" fill="#4a4a4a" stroke="none">1.7</text>
<text x="465.20" y="545.30" font-size="6.0" text-anchor="middle" fill="#4a4a4a" stroke="none">1.4</text>
<text x="482.10" y="545.30" font-size="6.0" text-anchor="middle" fill="#4a9ad6" stroke="none">0.8</text>
<text x="431.40" y="576.60" font-size="6.0" text-anchor="middle" fill="#4a4a4a" stroke="none">1.0</text>
<text x="448.70" y="576.60" font-size="6.0" text-anchor="middle" fill="#4a4a4a" stroke="none">1.0</text>
<text x="465.20" y="576.60" font-size="6.0" text-anchor="middle" fill="#4a4a4a" stroke="none">1.3</text>
<text x="482.10" y="576.60" font-size="6.0" text-anchor="middle" fill="#4a9ad6" stroke="none">0.8</text>
<text x="366.80" y="624.30" font-size="6.6" text-anchor="start" fill="#2a2a2a"  stroke="#2a2a2a" stroke-width="0.2">AML-11</text>
<text x="420.50" y="623.55" font-size="6.6" text-anchor="end" fill="#2a2a2a"  stroke="#2a2a2a" stroke-width="0.2">MCL1</text>
<rect x="423.5" y="616.20" width="66.4" height="9.90" fill="#cacaca"/>
<g filter="url(#bb)">
<rect x="424.40" y="619.60" width="14.00" height="3.00" fill="#555" opacity="0.6" rx="1.20"/>
<rect x="441.70" y="618.20" width="14.00" height="3.00" fill="#000" opacity="0.95" rx="1.20"/>
<rect x="458.20" y="619.60" width="14.00" height="3.00" fill="#666" opacity="0.5" rx="1.20"/>
<rect x="475.10" y="620.00" width="14.00" height="3.00" fill="#999" opacity="0.3" rx="1.20"/>
<rect x="441.70" y="618.00" width="14.00" height="5.80" fill="#000" opacity="0.9" rx="1.20"/>
</g>
<rect x="423.5" y="616.20" width="66.4" height="9.90" fill="none" stroke="#1a1a1a" stroke-width="1.25"/>
<text x="420.50" y="639.60" font-size="6.6" text-anchor="end" fill="#2a2a2a"  stroke="#2a2a2a" stroke-width="0.2">p-BCL2</text>
<rect x="423.5" y="632.40" width="66.4" height="9.60" fill="#d4d4d4"/>
<g filter="url(#bb)">
<rect x="424.15" y="635.40" width="14.50" height="2.30" fill="#111" opacity="0.9" rx="1.15"/>
<rect x="441.45" y="635.40" width="14.50" height="2.30" fill="#555" opacity="0.6" rx="1.15"/>
<rect x="457.95" y="635.40" width="14.50" height="2.30" fill="#aaa" opacity="0.3" rx="1.15"/>
<rect x="474.85" y="635.40" width="14.50" height="2.30" fill="#b0b0b0" opacity="0.25" rx="1.15"/>
</g>
<rect x="423.5" y="632.40" width="66.4" height="9.60" fill="none" stroke="#1a1a1a" stroke-width="1.25"/>
<text x="420.50" y="655.15" font-size="6.6" text-anchor="end" fill="#2a2a2a"  stroke="#2a2a2a" stroke-width="0.2">BCL2</text>
<rect x="423.5" y="648.30" width="66.4" height="8.90" fill="#d0d0d0"/>
<g filter="url(#bb)">
<rect x="423.80" y="651.80" width="15.20" height="2.30" fill="#111" opacity="0.85" rx="1.15"/>
<rect x="441.10" y="651.60" width="15.20" height="2.30" fill="#0a0a0a" opacity="0.9" rx="1.15"/>
<rect x="457.60" y="651.80" width="15.20" height="2.30" fill="#222" opacity="0.8" rx="1.15"/>
<rect x="474.50" y="652.30" width="15.20" height="2.30" fill="#777" opacity="0.5" rx="1.15"/>
</g>
<rect x="423.5" y="648.30" width="66.4" height="8.90" fill="none" stroke="#1a1a1a" stroke-width="1.25"/>
<text x="420.50" y="671.35" font-size="6.6" text-anchor="end" fill="#2a2a2a"  stroke="#2a2a2a" stroke-width="0.2">p-ERK</text>
<rect x="423.5" y="664.20" width="66.4" height="9.50" fill="#c9c9c9"/>
<g filter="url(#bb)">
<rect x="423.80" y="667.60" width="15.20" height="2.50" fill="#222" opacity="0.8" rx="1.20"/>
<rect x="441.10" y="666.80" width="15.20" height="2.50" fill="#222" opacity="0.8" rx="1.20"/>
<rect x="457.60" y="668.20" width="15.20" height="2.50" fill="#333" opacity="0.7" rx="1.20"/>
<rect x="474.50" y="668.70" width="15.20" height="2.50" fill="#777" opacity="0.45" rx="1.20"/>
</g>
<rect x="423.5" y="664.20" width="66.4" height="9.50" fill="none" stroke="#1a1a1a" stroke-width="1.25"/>
<text x="420.50" y="686.85" font-size="6.6" text-anchor="end" fill="#2a2a2a"  stroke="#2a2a2a" stroke-width="0.2">ERK</text>
<rect x="423.5" y="680.00" width="66.4" height="8.90" fill="#d3d3d3"/>
<g filter="url(#bb)">
<rect x="423.80" y="682.40" width="15.20" height="1.40" fill="#666" opacity="0.55" rx="0.70"/>
<rect x="441.10" y="682.40" width="15.20" height="1.40" fill="#666" opacity="0.55" rx="0.70"/>
<rect x="457.60" y="682.40" width="15.20" height="1.40" fill="#888" opacity="0.4" rx="0.70"/>
<rect x="474.50" y="682.40" width="15.20" height="1.40" fill="#888" opacity="0.4" rx="0.70"/>
<rect x="423.80" y="685.00" width="15.20" height="1.70" fill="#555" opacity="0.6" rx="0.85"/>
<rect x="441.10" y="685.00" width="15.20" height="1.70" fill="#555" opacity="0.6" rx="0.85"/>
<rect x="457.60" y="685.00" width="15.20" height="1.70" fill="#888" opacity="0.45" rx="0.85"/>
<rect x="474.50" y="685.00" width="15.20" height="1.70" fill="#777" opacity="0.45" rx="0.85"/>
</g>
<rect x="423.5" y="680.00" width="66.4" height="8.90" fill="none" stroke="#1a1a1a" stroke-width="1.25"/>
<text x="420.50" y="702.25" font-size="6.6" text-anchor="end" fill="#2a2a2a"  stroke="#2a2a2a" stroke-width="0.2">β-actin</text>
<rect x="423.5" y="695.30" width="66.4" height="9.10" fill="#d7d7d7"/>
<g filter="url(#bb)">
<rect x="423.15" y="699.00" width="16.50" height="2.10" fill="#222" opacity="0.8" rx="1.05"/>
<rect x="440.45" y="699.00" width="16.50" height="2.10" fill="#333" opacity="0.75" rx="1.05"/>
<rect x="456.95" y="699.00" width="16.50" height="2.10" fill="#333" opacity="0.75" rx="1.05"/>
<rect x="473.85" y="699.00" width="16.50" height="2.10" fill="#444" opacity="0.7" rx="1.05"/>
</g>
<rect x="423.5" y="695.30" width="66.4" height="9.10" fill="none" stroke="#1a1a1a" stroke-width="1.25"/>
<text x="431.40" y="631.10" font-size="6.0" text-anchor="middle" fill="#4a4a4a" stroke="none">1.0</text>
<text x="448.70" y="631.10" font-size="6.0" text-anchor="middle" fill="#4a4a4a" stroke="none">4.1</text>
<text x="465.20" y="631.10" font-size="6.0" text-anchor="middle" fill="#4a4a4a" stroke="none">1.4</text>
<text x="482.10" y="631.10" font-size="6.0" text-anchor="middle" fill="#4a9ad6" stroke="none">0.7</text>
<text x="431.40" y="646.70" font-size="6.0" text-anchor="middle" fill="#4a4a4a" stroke="none">1.0</text>
<text x="448.70" y="646.70" font-size="6.0" text-anchor="middle" fill="#4a4a4a" stroke="none">0.8</text>
<text x="465.20" y="646.70" font-size="6.0" text-anchor="middle" fill="#4a4a4a" stroke="none">0.4</text>
<text x="482.10" y="646.70" font-size="6.0" text-anchor="middle" fill="#4a9ad6" stroke="none">0.7</text>
<text x="431.40" y="678.50" font-size="6.0" text-anchor="middle" fill="#4a4a4a" stroke="none">1.0</text>
<text x="448.70" y="678.50" font-size="6.0" text-anchor="middle" fill="#4a4a4a" stroke="none">1.0</text>
<text x="465.20" y="678.50" font-size="6.0" text-anchor="middle" fill="#4a4a4a" stroke="none">1.2</text>
<text x="482.10" y="678.50" font-size="6.0" text-anchor="middle" fill="#4a9ad6" stroke="none">0.7</text>
</svg>
</body></html>
